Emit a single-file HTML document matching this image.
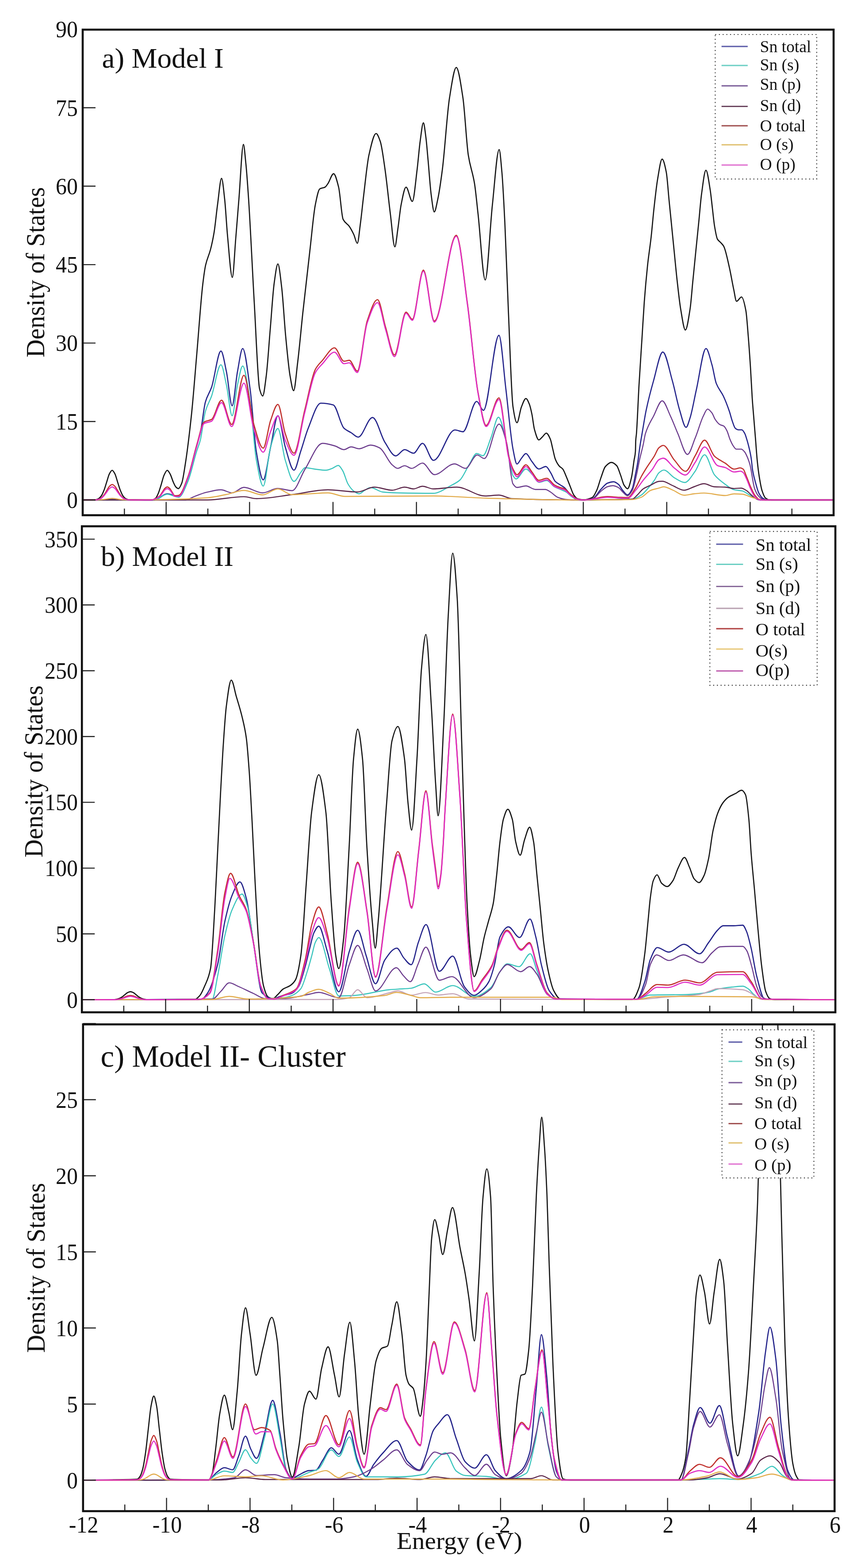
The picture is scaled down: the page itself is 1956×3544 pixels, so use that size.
<!DOCTYPE html>
<html><head><meta charset="utf-8"><title>Density of States</title>
<style>html,body{margin:0;padding:0;background:#fff;}svg{display:block;filter:blur(0.6px);}text{font-family:'Liberation Serif', 'Times New Roman', serif;fill:#111;}</style></head><body>
<svg xmlns="http://www.w3.org/2000/svg" width="1956" height="3544" viewBox="0 0 1956 3544">
<rect x="0" y="0" width="1956" height="3544" fill="#fff"/>
<defs>
<clipPath id="cp0"><rect x="187.0" y="67.0" width="1698.0" height="1097.5"/></clipPath>
<clipPath id="cp1"><rect x="185.2" y="1189.5" width="1703.8" height="1098.5"/></clipPath>
<clipPath id="cp2"><rect x="187.8" y="2315.3" width="1699.4" height="1100.2"/></clipPath>
</defs>
<g clip-path="url(#cp0)" fill="none" stroke-linejoin="round" stroke-linecap="round">
<path d="M187.0 1130.0C196.9 1129.8 206.8 1129.8 216.7 1129.3C218.7 1129.2 220.8 1128.2 222.8 1127.1C224.9 1126.0 226.9 1123.7 229.0 1120.9C231.0 1118.2 233.1 1113.2 235.1 1108.2C237.2 1103.1 239.2 1095.7 241.3 1089.4C243.3 1083.2 245.4 1074.6 247.4 1070.9C249.5 1067.2 251.5 1063.0 253.6 1063.0C255.7 1063.0 257.7 1067.2 259.8 1070.9C261.8 1074.6 263.9 1083.2 265.9 1089.4C268.0 1095.7 270.0 1103.1 272.1 1108.2C274.1 1113.2 276.2 1118.2 278.2 1120.9C280.3 1123.7 282.3 1126.0 284.4 1127.1C286.4 1128.2 288.5 1129.2 290.5 1129.3C308.7 1129.9 326.8 1130.0 345.0 1130.0C347.3 1130.0 349.7 1128.1 352.0 1126.0C354.0 1124.2 356.0 1119.6 358.0 1115.0C360.0 1110.4 362.0 1103.3 364.0 1097.0C366.3 1089.7 368.7 1078.9 371.0 1074.0C373.4 1069.0 375.8 1063.0 378.2 1063.0C380.5 1063.0 382.7 1068.0 385.0 1072.0C387.3 1076.1 389.7 1085.0 392.0 1090.0C394.0 1094.3 396.0 1099.1 398.0 1101.0C399.8 1102.7 401.6 1104.4 403.4 1104.4C405.9 1104.4 408.5 1098.3 411.0 1092.0C413.7 1085.4 416.3 1065.8 419.0 1049.0C423.7 1019.5 428.3 981.1 433.0 937.0C437.0 899.2 441.0 846.1 445.0 800.0C449.5 747.8 454.1 679.4 458.6 642.0C460.7 624.4 462.9 608.5 465.0 599.0C468.7 582.7 472.3 578.1 476.0 564.0C478.7 553.7 481.3 541.9 484.0 526.0C486.7 510.1 489.3 481.3 492.0 462.0C495.0 440.3 498.0 403.0 501.0 403.0C503.3 403.0 505.7 429.4 508.0 450.0C510.2 469.4 512.4 511.0 514.6 534.0C518.2 571.6 521.8 627.0 525.4 627.0C527.9 627.0 530.5 570.2 533.0 540.0C535.5 510.6 537.9 478.3 540.4 448.0C543.7 407.0 547.1 326.4 550.4 326.4C552.3 326.4 554.1 351.9 556.0 370.0C558.0 389.4 560.0 418.3 562.0 448.0C566.3 512.4 570.7 610.8 575.0 685.0C579.0 753.5 583.0 864.0 587.0 879.0C589.3 887.8 591.7 895.0 594.0 895.0C596.7 895.0 599.3 870.1 602.0 850.0C605.0 827.4 608.0 780.0 611.0 745.0C614.0 710.0 617.0 661.4 620.0 640.0C622.8 620.0 625.6 596.5 628.4 596.5C631.3 596.5 634.1 626.4 637.0 650.0C640.0 674.7 643.0 728.8 646.0 760.0C649.3 794.6 652.7 831.4 656.0 850.0C658.7 864.9 661.3 883.0 664.0 883.0C667.0 883.0 670.0 844.1 673.0 820.0C677.0 787.9 681.0 741.8 685.0 705.0C690.3 655.9 695.7 609.9 701.0 564.0C705.0 529.6 709.0 482.9 713.0 463.0C716.3 446.4 719.7 429.1 723.0 427.0C727.0 424.5 731.0 425.2 735.0 423.0C737.2 421.8 739.3 418.1 741.5 415.0C745.8 408.9 750.1 392.6 754.4 392.6C758.2 392.6 761.9 408.1 765.7 423.0C769.1 436.3 772.4 488.7 775.8 495.6C780.5 505.2 785.2 505.0 789.9 511.7C793.3 516.5 796.6 522.9 800.0 530.0C802.7 535.6 805.3 550.0 808.0 550.0C810.3 550.0 812.7 522.2 815.0 505.0C817.4 487.3 819.8 462.6 822.2 443.0C826.2 410.1 830.3 368.1 834.3 350.3C839.7 326.6 845.0 301.8 850.4 301.8C853.6 301.8 856.8 310.9 860.0 320.0C863.5 330.1 867.1 358.2 870.6 382.5C874.6 410.3 878.7 452.0 882.7 483.5C886.1 509.8 889.4 558.0 892.8 558.0C895.2 558.0 897.6 530.9 900.0 515.0C902.3 499.5 904.7 474.6 907.0 463.0C910.7 444.5 914.5 423.0 918.2 423.0C922.9 423.0 927.7 455.2 932.4 455.2C936.0 455.2 939.7 411.1 943.3 382.5C945.5 364.9 947.8 335.9 950.0 320.0C952.5 302.4 954.9 277.6 957.4 277.6C959.3 277.6 961.1 296.0 963.0 310.0C964.7 322.5 966.3 344.1 968.0 362.0C970.3 387.1 972.7 422.7 975.0 440.0C977.3 457.3 979.7 479.0 982.0 479.0C984.7 479.0 987.3 462.3 990.0 450.0C993.5 434.1 996.9 409.4 1000.4 382.5C1005.8 340.8 1011.1 254.1 1016.5 221.0C1021.6 189.5 1026.7 152.5 1031.8 152.5C1036.8 152.5 1041.8 188.5 1046.8 221.0C1050.8 247.2 1054.9 324.2 1058.9 350.3C1063.6 380.7 1068.3 385.9 1073.0 414.8C1075.7 431.2 1078.3 459.9 1081.0 483.5C1086.4 531.3 1091.8 632.8 1097.2 632.8C1102.6 632.8 1108.0 512.8 1113.4 463.3C1118.5 416.5 1123.6 338.1 1128.7 338.1C1130.8 338.1 1132.9 366.7 1135.0 390.0C1137.2 414.4 1139.4 459.1 1141.6 503.6C1144.3 558.2 1147.0 644.0 1149.7 705.4C1153.1 783.5 1156.6 896.7 1160.0 919.4C1163.0 939.2 1166.0 955.4 1169.0 955.4C1172.3 955.4 1175.7 928.2 1179.0 920.0C1182.4 911.6 1185.9 900.8 1189.3 900.8C1191.9 900.8 1194.5 907.6 1197.1 913.8C1199.0 918.3 1200.9 927.2 1202.8 936.3C1204.7 945.2 1206.5 963.3 1208.4 970.0C1211.8 982.0 1215.1 994.2 1218.5 994.2C1221.0 994.2 1223.5 990.2 1226.0 988.0C1229.1 985.2 1232.3 979.0 1235.4 979.0C1238.4 979.0 1241.4 985.7 1244.4 992.5C1246.3 996.7 1248.1 1007.5 1250.0 1015.0C1251.9 1022.5 1253.7 1032.8 1255.6 1037.5C1258.6 1045.1 1261.6 1049.9 1264.6 1053.3C1267.2 1056.3 1269.9 1056.8 1272.5 1060.0C1275.1 1063.2 1277.8 1070.8 1280.4 1076.9C1283.4 1083.8 1286.4 1092.0 1289.4 1099.4C1292.0 1105.9 1294.7 1114.7 1297.3 1118.5C1300.3 1122.8 1303.3 1126.7 1306.3 1127.5C1310.8 1128.7 1315.2 1129.5 1319.7 1129.5C1326.3 1129.5 1332.8 1127.6 1339.4 1124.4C1342.7 1122.8 1345.9 1115.4 1349.2 1108.6C1352.5 1101.7 1355.8 1088.1 1359.1 1079.1C1362.4 1070.2 1365.6 1058.1 1368.9 1054.5C1373.5 1049.4 1378.1 1045.1 1382.7 1045.1C1386.6 1045.1 1390.6 1048.5 1394.5 1052.5C1397.5 1055.5 1400.4 1066.3 1403.4 1074.1C1406.0 1081.0 1408.7 1092.9 1411.3 1096.8C1413.9 1100.7 1416.5 1104.7 1419.1 1104.7C1422.1 1104.7 1425.0 1091.4 1428.0 1079.1C1430.0 1071.0 1431.9 1052.7 1433.9 1039.7C1434.9 1033.1 1435.9 1033.3 1436.9 1020.0C1437.1 1017.3 1437.3 1000.4 1437.5 996.9C1438.1 987.0 1438.6 987.0 1439.2 980.0C1441.1 956.1 1443.1 903.3 1445.0 870.0C1447.3 829.8 1449.7 796.8 1452.0 760.0C1453.6 734.2 1455.3 703.9 1456.9 682.3C1459.3 650.0 1461.8 623.5 1464.2 600.8C1466.9 575.3 1469.7 560.0 1472.4 535.6C1474.6 516.3 1476.7 489.8 1478.9 470.4C1481.6 446.2 1484.3 420.9 1487.0 405.2C1490.4 385.4 1493.8 359.6 1497.2 359.6C1500.3 359.6 1503.5 373.5 1506.6 388.9C1508.8 399.5 1510.9 432.4 1513.1 454.1C1514.7 470.4 1516.4 486.7 1518.0 503.0C1520.2 524.7 1522.3 546.6 1524.5 568.2C1526.7 590.1 1528.9 613.8 1531.1 633.4C1533.8 657.4 1536.5 682.9 1539.2 698.6C1542.7 719.1 1546.3 745.9 1549.8 745.9C1553.3 745.9 1556.9 721.1 1560.4 698.6C1562.6 684.8 1564.7 655.1 1566.9 633.4C1569.1 611.7 1571.2 589.8 1573.4 568.2C1575.6 546.3 1577.8 524.9 1580.0 503.0C1582.2 481.4 1584.3 453.3 1586.5 437.8C1589.8 414.4 1593.0 384.8 1596.3 384.8C1599.5 384.8 1602.8 409.8 1606.0 429.6C1607.6 439.6 1609.3 456.8 1610.9 470.4C1612.5 484.0 1614.2 501.4 1615.8 511.1C1618.0 524.0 1620.1 536.7 1622.3 540.5C1624.9 545.0 1627.4 545.7 1630.0 548.6C1632.1 551.0 1634.3 552.7 1636.4 556.4C1640.7 563.9 1645.1 586.2 1649.4 605.0C1652.6 618.9 1655.8 638.8 1659.0 653.5C1661.2 663.4 1663.3 681.0 1665.5 681.0C1669.3 681.0 1673.1 671.3 1676.9 671.3C1680.1 671.3 1683.4 685.3 1686.6 702.0C1688.4 711.3 1690.2 738.1 1692.0 760.0C1693.7 780.3 1695.3 804.0 1697.0 830.0C1698.3 850.8 1699.7 880.5 1701.0 900.0C1702.2 918.0 1703.5 931.3 1704.7 946.6C1706.0 962.3 1707.2 977.5 1708.5 993.2C1709.7 1008.5 1711.0 1027.6 1712.2 1039.8C1713.7 1055.0 1715.3 1067.4 1716.8 1077.0C1719.0 1090.7 1721.2 1103.1 1723.4 1109.7C1725.9 1117.1 1728.3 1123.6 1730.8 1125.5C1733.6 1127.7 1736.4 1129.3 1739.2 1129.5C1742.8 1129.8 1746.4 1130.0 1750.0 1130.0C1795.0 1130.0 1840.0 1130.0 1885.0 1130.0" stroke="#141414" stroke-width="2.6"/>
<path d="M187.0 1130.0C202.0 1130.0 217.0 1130.0 232.0 1130.0C239.0 1130.0 246.0 1128.0 253.0 1128.0C260.3 1128.0 267.7 1130.0 275.0 1130.0C300.0 1130.0 325.0 1130.0 350.0 1130.0C359.3 1130.0 368.7 1116.0 378.0 1116.0C386.7 1116.0 395.3 1122.0 404.0 1122.0C411.0 1122.0 418.0 1098.2 425.0 1080.0C431.6 1062.9 438.1 1030.0 444.7 1007.0C447.5 997.3 450.2 990.9 453.0 979.0C456.8 962.7 460.6 922.1 464.4 908.8C469.1 892.3 473.8 888.7 478.5 875.0C485.5 854.5 492.6 793.4 499.6 793.4C503.7 793.4 507.9 820.9 512.0 840.0C516.3 859.8 520.6 917.2 524.9 917.2C528.9 917.2 533.0 861.1 537.0 840.0C540.9 819.5 544.9 787.8 548.8 787.8C554.4 787.8 560.1 840.2 565.7 880.6C570.4 914.0 575.0 994.0 579.7 1021.3C584.9 1051.5 590.0 1084.6 595.2 1084.6C600.8 1084.6 606.4 1034.4 612.0 1010.0C617.5 986.1 622.9 939.6 628.4 939.6C633.9 939.6 639.5 991.8 645.0 1010.0C651.6 1031.7 658.2 1062.7 664.8 1062.7C669.9 1062.7 674.9 1034.9 680.0 1020.0C685.7 1003.4 691.3 981.8 697.0 967.8C706.4 944.6 715.9 911.3 725.3 911.3C734.7 911.3 744.2 912.7 753.6 915.3C761.7 917.5 769.7 960.2 777.8 967.8C783.2 972.9 788.6 974.6 794.0 978.0C799.3 981.3 804.7 988.0 810.0 988.0C820.8 988.0 831.6 943.6 842.4 943.6C851.8 943.6 861.2 985.6 870.6 1000.0C878.7 1012.4 886.7 1030.4 894.8 1030.4C901.5 1030.4 908.3 1016.3 915.0 1016.3C921.7 1016.3 928.5 1024.3 935.2 1024.3C941.9 1024.3 948.7 1002.0 955.4 1002.0C963.7 1002.0 971.9 1040.5 980.2 1040.5C996.3 1040.5 1012.5 971.8 1028.6 971.8C1034.7 971.8 1040.7 975.9 1046.8 975.9C1057.2 975.9 1067.5 907.3 1077.9 907.3C1083.0 907.3 1088.1 927.5 1093.2 927.5C1104.9 927.5 1116.6 757.9 1128.3 757.9C1133.5 757.9 1138.8 837.6 1144.0 880.0C1149.3 923.2 1154.7 988.2 1160.0 1015.0C1163.0 1030.1 1166.0 1048.8 1169.0 1048.8C1172.3 1048.8 1175.7 1039.9 1179.0 1036.0C1182.4 1032.0 1185.9 1025.1 1189.3 1025.1C1193.8 1025.1 1198.3 1037.7 1202.8 1043.1C1208.0 1049.4 1213.3 1060.0 1218.5 1060.0C1223.8 1060.0 1229.0 1054.4 1234.3 1054.4C1238.0 1054.4 1241.8 1063.2 1245.5 1069.0C1248.9 1074.2 1252.2 1084.8 1255.6 1088.2C1259.4 1092.0 1263.1 1093.5 1266.9 1096.0C1269.9 1098.0 1272.9 1099.3 1275.9 1101.7C1280.4 1105.3 1284.9 1113.3 1289.4 1117.4C1295.0 1122.5 1300.7 1129.6 1306.3 1129.8C1310.9 1129.9 1315.4 1130.0 1320.0 1130.0C1326.7 1130.0 1333.3 1128.8 1340.0 1127.0C1346.4 1125.3 1352.7 1112.2 1359.1 1105.7C1364.0 1100.7 1368.9 1093.6 1373.8 1091.9C1378.4 1090.3 1383.0 1088.9 1387.6 1088.9C1391.2 1088.9 1394.9 1091.9 1398.5 1094.8C1401.8 1097.4 1405.0 1105.0 1408.3 1108.6C1411.9 1112.6 1415.5 1118.5 1419.1 1118.5C1422.7 1118.5 1426.4 1111.6 1430.0 1103.7C1432.3 1098.6 1434.7 1083.4 1437.0 1072.0C1438.6 1064.4 1440.1 1056.9 1441.7 1047.5C1443.7 1035.7 1445.6 1017.9 1447.6 1005.3C1449.0 996.1 1450.5 988.3 1451.9 980.0C1455.0 962.2 1458.0 942.2 1461.1 927.5C1466.7 900.6 1472.4 879.7 1478.0 860.0C1484.9 835.7 1491.9 795.6 1498.8 795.6C1505.9 795.6 1513.1 835.3 1520.2 860.0C1525.8 879.4 1531.4 909.6 1537.0 927.5C1541.8 942.8 1546.6 965.9 1551.4 965.9C1554.5 965.9 1557.5 953.3 1560.6 943.9C1565.3 929.5 1570.0 901.2 1574.7 880.6C1582.0 848.8 1589.2 787.8 1596.5 787.8C1601.0 787.8 1605.4 809.3 1609.9 824.4C1613.2 835.4 1616.4 858.1 1619.7 866.6C1625.0 880.4 1630.3 883.8 1635.6 895.0C1640.2 904.7 1644.8 916.5 1649.4 930.0C1651.5 936.2 1653.6 945.2 1655.7 951.1C1658.0 957.7 1660.4 966.1 1662.7 968.0C1665.1 969.9 1667.4 971.5 1669.8 971.5C1672.4 971.5 1674.9 971.5 1677.5 971.5C1679.6 971.5 1681.7 975.6 1683.8 979.2C1685.5 982.1 1687.1 987.9 1688.8 993.3C1690.7 999.3 1692.5 1006.3 1694.4 1014.4C1695.8 1020.5 1697.2 1026.6 1698.6 1035.5C1699.7 1042.5 1700.8 1056.7 1701.9 1063.1C1704.1 1075.9 1706.3 1083.0 1708.5 1091.0C1711.0 1099.9 1713.4 1109.8 1715.9 1114.4C1719.0 1120.2 1722.1 1124.8 1725.2 1126.5C1728.5 1128.3 1731.7 1130.0 1735.0 1130.0C1785.0 1130.0 1835.0 1130.0 1885.0 1130.0" stroke="#23238a" stroke-width="2.6"/>
<path d="M187.0 1130.0C241.3 1130.0 295.7 1130.0 350.0 1130.0C359.3 1130.0 368.7 1117.0 378.0 1117.0C386.7 1117.0 395.3 1124.0 404.0 1124.0C411.0 1124.0 418.0 1104.1 425.0 1088.0C431.6 1072.9 438.1 1040.9 444.7 1020.0C447.5 1011.2 450.2 1005.7 453.0 995.0C456.8 980.3 460.6 943.3 464.4 930.0C469.1 913.5 473.8 908.3 478.5 895.0C485.5 875.1 492.6 824.4 499.6 824.4C503.7 824.4 507.9 851.9 512.0 870.0C516.3 888.8 520.6 939.7 524.9 939.7C528.9 939.7 533.0 887.9 537.0 870.0C540.9 852.5 544.9 827.2 548.8 827.2C554.4 827.2 560.1 873.5 565.7 910.0C570.4 940.2 575.0 1014.7 579.7 1040.0C584.9 1068.0 590.0 1098.6 595.2 1098.6C600.8 1098.6 606.4 1029.1 612.0 1010.0C617.5 991.3 622.9 968.5 628.4 968.5C633.9 968.5 639.5 1022.7 645.0 1040.0C651.6 1060.6 658.2 1088.0 664.8 1088.0C669.9 1088.0 674.9 1074.0 680.0 1068.0C683.3 1064.0 686.7 1057.0 690.0 1057.0C696.7 1057.0 703.3 1059.2 710.0 1060.0C719.2 1061.1 728.3 1062.8 737.5 1062.8C742.2 1062.8 746.8 1060.3 751.5 1058.6C756.0 1056.9 760.5 1052.0 765.0 1052.0C768.3 1052.0 771.7 1058.7 775.0 1064.0C779.0 1070.4 783.0 1087.4 787.0 1094.0C791.3 1101.2 795.7 1106.9 800.0 1110.0C804.0 1112.8 808.0 1116.0 812.0 1116.0C816.3 1116.0 820.7 1110.3 825.0 1108.0C829.3 1105.7 833.7 1102.0 838.0 1102.0C847.0 1102.0 856.0 1111.1 865.0 1112.0C876.7 1113.2 888.3 1113.7 900.0 1114.0C926.5 1114.6 953.1 1115.0 979.6 1115.0C993.2 1115.0 1006.9 1104.1 1020.5 1097.0C1027.0 1093.6 1033.5 1090.8 1040.0 1085.0C1047.0 1078.7 1054.0 1060.9 1061.0 1050.0C1066.7 1041.2 1072.3 1025.0 1078.0 1025.0C1082.7 1025.0 1087.3 1030.0 1092.0 1030.0C1098.0 1030.0 1104.0 1004.7 1110.0 990.0C1115.7 975.9 1121.5 943.0 1127.2 943.0C1133.1 943.0 1139.1 976.7 1145.0 1000.0C1150.0 1019.6 1155.0 1066.6 1160.0 1075.0C1162.3 1078.8 1164.5 1082.5 1166.8 1082.5C1174.3 1082.5 1181.8 1060.0 1189.3 1060.0C1193.9 1060.0 1198.4 1067.5 1203.0 1072.0C1208.2 1077.1 1213.3 1090.0 1218.5 1090.0C1224.5 1090.0 1230.5 1086.0 1236.5 1086.0C1242.1 1086.0 1247.8 1096.8 1253.4 1100.0C1257.9 1102.6 1262.4 1104.0 1266.9 1106.0C1271.3 1108.0 1275.6 1109.5 1280.0 1112.0C1285.0 1114.9 1290.0 1121.3 1295.0 1124.0C1300.0 1126.7 1305.0 1130.0 1310.0 1130.0C1350.0 1130.0 1390.0 1129.7 1430.0 1128.0C1436.7 1127.7 1443.3 1123.2 1450.0 1119.0C1454.3 1116.3 1458.5 1111.2 1462.8 1106.6C1468.4 1100.5 1474.1 1093.6 1479.7 1085.5C1483.1 1080.6 1486.6 1071.5 1490.0 1068.6C1493.7 1065.5 1497.5 1062.4 1501.2 1062.4C1509.1 1062.4 1517.1 1075.6 1525.0 1080.0C1532.8 1084.3 1540.5 1090.5 1548.3 1090.5C1556.2 1090.5 1564.1 1075.6 1572.0 1065.0C1579.1 1055.5 1586.2 1027.9 1593.3 1027.9C1600.8 1027.9 1608.3 1064.4 1615.8 1073.6C1623.9 1083.5 1631.9 1088.9 1640.0 1094.7C1646.7 1099.5 1653.3 1105.3 1660.0 1106.9C1666.2 1108.4 1672.4 1108.2 1678.6 1109.7C1683.1 1110.8 1687.5 1114.5 1692.0 1117.0C1696.9 1119.7 1701.7 1123.2 1706.6 1125.5C1710.4 1127.3 1714.2 1130.0 1718.0 1130.0C1773.7 1130.0 1829.3 1130.0 1885.0 1130.0" stroke="#38c4bc" stroke-width="2.4"/>
<path d="M187.0 1130.0C264.7 1130.0 342.3 1130.0 420.0 1130.0C426.7 1130.0 433.3 1124.5 440.0 1122.0C449.1 1118.6 458.1 1114.8 467.2 1112.7C478.0 1110.2 488.8 1107.0 499.6 1107.0C508.0 1107.0 516.5 1114.0 524.9 1114.0C533.8 1114.0 542.7 1101.5 551.6 1101.5C565.7 1101.5 579.7 1114.0 593.8 1114.0C605.2 1114.0 616.6 1104.0 628.0 1104.0C638.9 1104.0 649.8 1109.0 660.7 1109.0C670.5 1109.0 680.2 1075.4 690.0 1060.0C703.1 1039.4 716.2 1002.0 729.3 1002.0C738.7 1002.0 748.2 1005.3 757.6 1008.0C764.3 1009.9 771.1 1016.3 777.8 1016.3C783.2 1016.3 788.6 1010.0 794.0 1010.0C800.0 1010.0 806.0 1014.3 812.0 1014.3C820.8 1014.3 829.5 1006.0 838.3 1006.0C845.0 1006.0 851.8 1009.0 858.5 1012.3C867.9 1016.9 877.4 1042.6 886.8 1050.6C890.8 1054.0 894.9 1058.6 898.9 1058.6C904.3 1058.6 909.6 1052.6 915.0 1052.6C920.3 1052.6 925.7 1058.6 931.0 1058.6C939.1 1058.6 947.3 1046.6 955.4 1046.6C964.3 1046.6 973.3 1072.8 982.2 1072.8C997.4 1072.8 1012.6 1048.5 1027.8 1048.5C1036.1 1048.5 1044.5 1058.6 1052.8 1058.6C1061.5 1058.6 1070.3 1028.4 1079.0 1028.4C1084.4 1028.4 1089.8 1036.4 1095.2 1036.4C1106.3 1036.4 1117.5 958.5 1128.6 958.5C1134.2 958.5 1139.9 980.1 1145.5 1000.6C1150.3 1018.2 1155.2 1086.8 1160.0 1093.8C1163.0 1098.2 1166.0 1101.7 1169.0 1101.7C1175.8 1101.7 1182.5 1098.3 1189.3 1098.3C1196.4 1098.3 1203.5 1106.2 1210.6 1106.2C1218.1 1106.2 1225.6 1106.2 1233.1 1106.2C1236.9 1106.2 1240.6 1109.6 1244.4 1111.8C1250.0 1115.1 1255.7 1122.0 1261.3 1124.2C1266.9 1126.4 1272.5 1128.0 1278.1 1128.7C1283.7 1129.4 1289.4 1130.0 1295.0 1130.0C1304.0 1130.0 1313.0 1130.0 1322.0 1130.0C1328.0 1130.0 1334.0 1129.2 1340.0 1128.0C1346.4 1126.7 1352.7 1115.0 1359.1 1110.0C1364.0 1106.2 1368.9 1101.4 1373.8 1100.0C1377.8 1098.9 1381.7 1097.8 1385.7 1097.8C1390.0 1097.8 1394.2 1099.8 1398.5 1102.0C1401.8 1103.7 1405.0 1109.1 1408.3 1112.0C1411.9 1115.2 1415.5 1120.5 1419.1 1120.5C1422.7 1120.5 1426.4 1114.5 1430.0 1108.0C1433.3 1102.1 1436.7 1084.6 1440.0 1070.0C1442.0 1061.3 1444.0 1049.1 1446.0 1040.0C1448.8 1027.3 1451.6 1018.0 1454.4 1005.3C1456.1 997.6 1457.8 985.5 1459.5 980.0C1465.7 960.0 1471.8 952.2 1478.0 940.2C1484.5 927.7 1490.9 906.0 1497.4 906.0C1503.6 906.0 1509.8 927.3 1516.0 940.2C1521.6 951.8 1527.2 967.3 1532.8 980.0C1540.1 996.5 1547.3 1027.2 1554.6 1027.2C1560.4 1027.2 1566.2 1003.8 1572.0 990.0C1578.2 975.3 1584.3 952.2 1590.5 940.0C1593.7 933.8 1596.8 924.6 1600.0 924.6C1603.3 924.6 1606.7 929.3 1610.0 933.5C1612.3 936.4 1614.7 944.2 1617.0 947.6C1620.5 952.8 1624.1 957.5 1627.6 959.5C1630.6 961.3 1633.7 961.2 1636.7 963.1C1639.1 964.6 1641.4 969.0 1643.8 973.6C1646.1 978.1 1648.5 987.8 1650.8 993.3C1653.1 998.8 1655.5 1004.1 1657.8 1007.4C1660.2 1010.7 1662.5 1015.1 1664.9 1015.1C1668.6 1015.1 1672.4 1015.1 1676.1 1015.1C1678.7 1015.1 1681.2 1018.4 1683.8 1021.4C1686.2 1024.2 1688.5 1029.8 1690.9 1035.5C1692.5 1039.4 1694.2 1044.1 1695.8 1050.0C1699.4 1063.0 1703.0 1095.5 1706.6 1105.0C1709.7 1113.2 1712.8 1118.7 1715.9 1121.8C1719.9 1125.9 1724.0 1130.0 1728.0 1130.0C1780.3 1130.0 1832.7 1130.0 1885.0 1130.0" stroke="#6a3a8c" stroke-width="2.4"/>
<path d="M187.0 1130.0C281.3 1130.0 375.7 1130.0 470.0 1130.0C497.2 1130.0 524.4 1122.6 551.6 1122.6C561.1 1122.6 570.5 1127.0 580.0 1127.0C606.7 1127.0 633.3 1121.3 660.0 1118.0C687.2 1114.7 714.3 1107.0 741.5 1107.0C763.7 1107.0 785.8 1112.0 808.0 1112.0C820.8 1112.0 833.6 1101.0 846.4 1101.0C859.9 1101.0 873.3 1108.0 886.8 1108.0C896.2 1108.0 905.6 1101.0 915.0 1101.0C921.7 1101.0 928.3 1105.0 935.0 1105.0C941.8 1105.0 948.6 1099.0 955.4 1099.0C963.5 1099.0 971.5 1105.0 979.6 1105.0C997.3 1105.0 1015.0 1101.0 1032.7 1101.0C1054.2 1101.0 1075.7 1121.0 1097.2 1121.0C1107.5 1121.0 1117.7 1119.0 1128.0 1119.0C1137.9 1119.0 1147.9 1126.5 1157.8 1127.0C1205.2 1129.3 1252.6 1130.0 1300.0 1130.0C1343.3 1130.0 1386.7 1129.8 1430.0 1128.0C1433.3 1127.9 1436.7 1123.0 1440.0 1120.0C1444.8 1115.7 1449.6 1108.2 1454.4 1104.9C1460.0 1101.1 1465.7 1099.2 1471.3 1096.5C1477.5 1093.5 1483.8 1088.4 1490.0 1088.0C1492.6 1087.8 1495.1 1087.7 1497.7 1087.7C1505.1 1087.7 1512.6 1093.9 1520.0 1097.0C1529.0 1100.7 1537.9 1108.0 1546.9 1108.0C1554.6 1108.0 1562.3 1102.5 1570.0 1100.0C1577.3 1097.6 1584.6 1093.3 1591.9 1093.3C1599.9 1093.3 1607.8 1099.9 1615.8 1100.3C1623.9 1100.7 1631.9 1100.6 1640.0 1101.0C1646.7 1101.3 1653.3 1104.1 1660.0 1104.1C1665.3 1104.1 1670.5 1103.2 1675.8 1103.2C1679.9 1103.2 1683.9 1106.3 1688.0 1108.8C1691.1 1110.7 1694.2 1114.3 1697.3 1117.1C1700.4 1119.9 1703.5 1123.8 1706.6 1125.5C1710.4 1127.6 1714.2 1130.0 1718.0 1130.0C1773.7 1130.0 1829.3 1130.0 1885.0 1130.0" stroke="#5a2448" stroke-width="2.4"/>
<path d="M187.0 1130.0C196.9 1129.9 206.9 1129.9 216.8 1129.6C218.8 1129.5 220.9 1129.0 222.9 1128.5C225.0 1127.9 227.0 1126.8 229.1 1125.3C231.1 1123.9 233.2 1121.2 235.2 1118.6C237.3 1115.9 239.3 1112.1 241.4 1108.8C243.4 1105.6 245.5 1101.0 247.5 1099.1C249.6 1097.2 251.6 1095.0 253.7 1095.0C255.7 1095.0 257.8 1097.2 259.8 1099.1C261.9 1101.0 263.9 1105.5 266.0 1108.8C268.0 1112.0 270.1 1116.0 272.1 1118.6C274.2 1121.3 276.2 1123.8 278.3 1125.3C280.3 1126.7 282.4 1128.0 284.4 1128.5C286.5 1129.0 288.5 1129.6 290.6 1129.6C307.4 1129.9 324.2 1130.0 341.0 1130.0C347.9 1130.0 354.8 1125.9 361.7 1120.4C363.5 1119.0 365.4 1114.8 367.2 1112.1C369.0 1109.4 370.9 1105.6 372.7 1104.0C374.5 1102.4 376.4 1100.5 378.2 1100.5C380.0 1100.5 381.9 1102.4 383.7 1104.0C385.5 1105.6 387.4 1109.4 389.2 1112.1C391.0 1114.8 392.9 1120.4 394.7 1120.4C397.8 1120.4 400.9 1120.1 404.0 1119.7C411.0 1118.8 418.0 1095.7 425.0 1077.6C431.6 1060.7 438.1 1029.0 444.7 1007.0C450.3 988.1 456.0 957.3 461.6 953.8C467.2 950.3 472.9 951.2 478.5 948.0C486.0 943.8 493.5 904.6 501.0 904.6C508.7 904.6 516.3 959.4 524.0 959.4C533.2 959.4 542.4 848.3 551.6 848.3C559.1 848.3 566.5 934.5 574.0 959.4C581.1 983.0 588.1 1012.9 595.2 1012.9C600.8 1012.9 606.4 965.5 612.0 950.0C617.5 934.9 622.9 914.0 628.4 914.0C633.9 914.0 639.5 964.0 645.0 980.0C651.6 999.1 658.2 1024.3 664.8 1024.3C672.9 1024.3 680.9 959.1 689.0 927.5C697.1 895.9 705.1 849.4 713.2 834.6C718.6 824.8 723.9 820.6 729.3 814.4C738.3 804.0 747.4 786.2 756.4 786.2C763.5 786.2 770.7 816.4 777.8 816.4C781.8 816.4 785.9 814.4 789.9 814.4C795.9 814.4 802.0 838.7 808.0 838.7C815.4 838.7 822.9 747.5 830.3 725.6C838.1 702.6 845.9 677.2 853.7 677.2C859.8 677.2 865.9 720.1 872.0 740.0C878.7 761.8 885.3 802.3 892.0 802.3C900.7 802.3 909.5 705.5 918.2 705.5C922.9 705.5 927.7 721.6 932.4 721.6C940.7 721.6 949.1 610.6 957.4 610.6C965.7 610.6 973.9 725.6 982.2 725.6C998.7 725.6 1015.3 531.9 1031.8 531.9C1040.2 531.9 1048.5 626.1 1056.9 685.3C1064.9 742.1 1073.0 843.7 1081.0 887.1C1087.1 920.0 1093.2 961.7 1099.3 961.7C1109.0 961.7 1118.6 899.2 1128.3 899.2C1135.4 899.2 1142.6 1000.4 1149.7 1028.4C1153.1 1041.9 1156.6 1053.3 1160.0 1060.0C1163.0 1065.8 1166.0 1073.0 1169.0 1073.0C1175.8 1073.0 1182.5 1050.5 1189.3 1050.5C1193.9 1050.5 1198.4 1061.5 1203.0 1067.0C1208.2 1073.2 1213.3 1085.5 1218.5 1085.5C1224.5 1085.5 1230.5 1081.0 1236.5 1081.0C1242.1 1081.0 1247.8 1092.7 1253.4 1096.0C1257.9 1098.6 1262.4 1100.5 1266.9 1102.0C1269.9 1103.0 1272.9 1103.3 1275.9 1104.5C1280.6 1106.4 1285.3 1113.4 1290.0 1117.0C1295.3 1121.1 1300.7 1126.8 1306.0 1128.0C1310.7 1129.1 1315.3 1130.0 1320.0 1130.0C1325.0 1130.0 1330.0 1129.1 1335.0 1128.5C1347.9 1127.0 1360.9 1122.4 1373.8 1122.4C1382.5 1122.4 1391.3 1123.7 1400.0 1124.0C1406.7 1124.2 1413.3 1124.5 1420.0 1124.5C1425.8 1124.5 1431.7 1111.5 1437.5 1102.4C1441.7 1095.8 1446.0 1084.7 1450.2 1077.0C1454.4 1069.4 1458.6 1062.7 1462.8 1056.0C1468.4 1047.1 1474.1 1039.9 1479.7 1030.6C1483.1 1024.9 1486.6 1014.8 1490.0 1012.0C1493.3 1009.3 1496.5 1006.8 1499.8 1006.8C1508.2 1006.8 1516.6 1030.5 1525.0 1040.0C1533.5 1049.6 1541.9 1065.2 1550.4 1065.2C1557.6 1065.2 1564.8 1041.8 1572.0 1030.0C1579.1 1018.4 1586.2 994.9 1593.3 994.9C1600.8 994.9 1608.3 1024.3 1615.8 1031.4C1619.7 1035.1 1623.7 1037.2 1627.6 1039.7C1631.7 1042.3 1635.9 1044.3 1640.0 1046.9C1646.7 1051.0 1653.3 1060.3 1660.0 1060.3C1664.7 1060.3 1669.3 1057.5 1674.0 1057.5C1676.2 1057.5 1678.3 1058.8 1680.5 1060.3C1683.0 1062.1 1685.5 1071.1 1688.0 1077.0C1691.1 1084.3 1694.2 1093.5 1697.3 1100.4C1700.4 1107.3 1703.5 1114.9 1706.6 1119.0C1709.7 1123.1 1712.8 1127.3 1715.9 1128.3C1718.9 1129.3 1722.0 1130.0 1725.0 1130.0C1778.3 1130.0 1831.7 1130.0 1885.0 1130.0" stroke="#c0302c" stroke-width="2.6"/>
<path d="M187.0 1130.0C196.9 1130.0 206.9 1130.0 216.8 1130.0C218.8 1130.0 220.9 1129.9 222.9 1129.8C225.0 1129.7 227.0 1129.6 229.1 1129.5C231.1 1129.4 233.2 1129.1 235.2 1128.9C237.3 1128.6 239.3 1128.2 241.4 1127.9C243.4 1127.6 245.5 1127.1 247.5 1126.9C249.6 1126.7 251.6 1126.5 253.7 1126.5C255.7 1126.5 257.8 1126.7 259.8 1126.9C261.9 1127.1 263.9 1127.6 266.0 1127.9C268.0 1128.2 270.1 1128.7 272.1 1128.9C274.2 1129.2 276.2 1129.4 278.3 1129.5C280.3 1129.6 282.4 1129.7 284.4 1129.8C286.5 1129.9 288.5 1130.0 290.6 1130.0C319.7 1130.0 348.9 1129.5 378.0 1129.0C408.7 1128.4 439.3 1127.3 470.0 1125.0C483.3 1124.0 496.7 1120.6 510.0 1118.0C523.9 1115.3 537.7 1108.5 551.6 1108.5C565.7 1108.5 579.7 1118.5 593.8 1118.5C605.3 1118.5 616.9 1105.0 628.4 1105.0C638.9 1105.0 649.5 1118.0 660.0 1118.0C673.3 1118.0 686.7 1116.7 700.0 1116.0C713.8 1115.3 727.7 1114.0 741.5 1114.0C754.3 1114.0 767.2 1122.0 780.0 1122.0C846.7 1122.0 913.3 1121.0 980.0 1121.0C1020.0 1121.0 1060.0 1124.9 1100.0 1126.0C1166.7 1127.9 1233.3 1130.0 1300.0 1130.0C1343.3 1130.0 1386.7 1129.8 1430.0 1129.0C1436.7 1128.9 1443.3 1126.5 1450.0 1124.0C1457.1 1121.4 1464.2 1111.1 1471.3 1108.3C1477.5 1105.8 1483.8 1104.9 1490.0 1103.2C1493.5 1102.2 1497.0 1100.3 1500.5 1100.3C1507.7 1100.3 1514.8 1105.1 1522.0 1108.0C1530.3 1111.3 1538.6 1119.3 1546.9 1119.3C1554.6 1119.3 1562.3 1116.7 1570.0 1116.0C1577.3 1115.3 1584.6 1114.4 1591.9 1114.4C1607.9 1114.4 1624.0 1120.0 1640.0 1120.0C1646.7 1120.0 1653.3 1116.2 1660.0 1116.2C1666.2 1116.2 1672.4 1116.5 1678.6 1117.0C1684.8 1117.5 1691.1 1121.1 1697.3 1123.0C1701.9 1124.4 1706.4 1125.7 1711.0 1127.0C1714.7 1128.0 1718.3 1130.0 1722.0 1130.0C1776.3 1130.0 1830.7 1130.0 1885.0 1130.0" stroke="#e2ab4a" stroke-width="2.4"/>
<path d="M187.0 1130.0C196.9 1129.9 206.9 1129.9 216.8 1129.7C218.8 1129.7 220.9 1129.2 222.9 1128.7C225.0 1128.2 227.0 1127.2 229.1 1126.0C231.1 1124.8 233.2 1122.6 235.2 1120.4C237.3 1118.2 239.3 1114.9 241.4 1112.1C243.4 1109.4 245.5 1105.6 247.5 1104.0C249.6 1102.4 251.6 1100.5 253.7 1100.5C255.7 1100.5 257.8 1102.4 259.8 1104.0C261.9 1105.6 263.9 1109.3 266.0 1112.1C268.0 1114.8 270.1 1118.2 272.1 1120.4C274.2 1122.6 276.2 1124.8 278.3 1126.0C280.3 1127.2 282.4 1128.2 284.4 1128.7C286.5 1129.2 288.5 1129.7 290.6 1129.7C307.4 1130.0 324.2 1130.0 341.0 1130.0C347.9 1130.0 354.8 1126.4 361.7 1121.7C363.5 1120.4 365.4 1116.9 367.2 1114.5C369.0 1112.1 370.9 1108.8 372.7 1107.4C374.5 1106.0 376.4 1104.4 378.2 1104.4C380.0 1104.4 381.9 1106.0 383.7 1107.4C385.5 1108.8 387.4 1112.1 389.2 1114.5C391.0 1116.9 392.9 1121.6 394.7 1121.7C397.8 1121.9 400.9 1122.0 404.0 1122.0C411.0 1122.0 418.0 1098.0 425.0 1080.0C431.6 1063.1 438.1 1031.8 444.7 1010.0C450.3 991.3 456.0 960.0 461.6 957.0C467.2 954.0 472.9 954.8 478.5 952.0C486.0 948.3 493.5 910.0 501.0 910.0C508.7 910.0 516.3 964.0 524.0 964.0C533.2 964.0 542.4 866.0 551.6 866.0C559.1 866.0 566.5 946.1 574.0 970.0C581.1 992.6 588.1 1022.0 595.2 1022.0C600.8 1022.0 606.4 988.6 612.0 975.0C617.5 961.8 622.9 940.0 628.4 940.0C633.9 940.0 639.5 982.4 645.0 995.0C651.6 1010.1 658.2 1029.0 664.8 1029.0C672.9 1029.0 680.9 964.1 689.0 933.0C697.1 901.9 705.1 856.6 713.2 842.0C718.6 832.3 723.9 827.9 729.3 822.0C738.3 812.1 747.4 796.0 756.4 796.0C763.5 796.0 770.7 822.0 777.8 822.0C781.8 822.0 785.9 820.0 789.9 820.0C795.9 820.0 802.0 842.0 808.0 842.0C815.4 842.0 822.9 751.1 830.3 730.0C838.1 707.9 845.9 684.0 853.7 684.0C859.8 684.0 865.9 725.6 872.0 745.0C878.7 766.2 885.3 806.0 892.0 806.0C900.7 806.0 909.5 708.0 918.2 708.0C922.9 708.0 927.7 724.0 932.4 724.0C940.7 724.0 949.1 613.0 957.4 613.0C965.7 613.0 973.9 728.0 982.2 728.0C998.7 728.0 1015.3 534.0 1031.8 534.0C1040.2 534.0 1048.5 628.8 1056.9 688.0C1064.9 744.9 1073.0 845.5 1081.0 889.0C1087.1 922.0 1093.2 964.0 1099.3 964.0C1109.0 964.0 1118.6 903.0 1128.3 903.0C1135.4 903.0 1142.6 1003.8 1149.7 1032.0C1153.1 1045.6 1156.6 1057.1 1160.0 1064.0C1163.0 1070.0 1166.0 1077.5 1169.0 1077.5C1175.8 1077.5 1182.5 1054.5 1189.3 1054.5C1193.9 1054.5 1198.4 1065.6 1203.0 1071.0C1208.2 1077.1 1213.3 1089.0 1218.5 1089.0C1224.5 1089.0 1230.5 1084.5 1236.5 1084.5C1242.1 1084.5 1247.8 1095.9 1253.4 1099.0C1257.9 1101.5 1262.4 1103.0 1266.9 1104.5C1269.9 1105.5 1272.9 1105.8 1275.9 1107.0C1280.6 1108.9 1285.3 1115.7 1290.0 1119.0C1295.3 1122.7 1300.7 1127.5 1306.0 1128.5C1310.7 1129.3 1315.3 1130.0 1320.0 1130.0C1325.0 1130.0 1330.0 1129.4 1335.0 1129.0C1347.9 1127.9 1360.9 1124.0 1373.8 1124.0C1382.5 1124.0 1391.3 1125.2 1400.0 1125.5C1406.7 1125.7 1413.3 1126.0 1420.0 1126.0C1425.8 1126.0 1431.7 1114.8 1437.5 1108.0C1443.1 1101.5 1448.8 1092.6 1454.4 1085.5C1461.4 1076.6 1468.5 1069.5 1475.5 1060.2C1480.3 1053.8 1485.2 1041.6 1490.0 1039.0C1493.3 1037.2 1496.5 1035.6 1499.8 1035.6C1508.2 1035.6 1516.6 1051.8 1525.0 1058.0C1533.2 1064.1 1541.5 1073.6 1549.7 1073.6C1557.1 1073.6 1564.6 1055.7 1572.0 1045.0C1579.1 1034.8 1586.2 1010.3 1593.3 1010.3C1603.1 1010.3 1613.0 1048.6 1622.8 1052.5C1628.5 1054.8 1634.3 1054.8 1640.0 1056.7C1646.7 1058.9 1653.3 1066.8 1660.0 1066.8C1665.0 1066.8 1669.9 1065.0 1674.9 1065.0C1676.8 1065.0 1678.6 1066.5 1680.5 1068.0C1683.0 1070.0 1685.5 1076.7 1688.0 1082.0C1691.1 1088.6 1694.2 1098.5 1697.3 1105.0C1700.4 1111.5 1703.5 1118.8 1706.6 1122.0C1710.4 1125.9 1714.2 1130.0 1718.0 1130.0C1773.7 1130.0 1829.3 1130.0 1885.0 1130.0" stroke="#e02cc4" stroke-width="2.6"/>
</g>
<rect x="1617.3" y="78.0" width="229.5" height="326.7" fill="#fff" stroke="#333" stroke-width="2.2" stroke-dasharray="2.2 6.2"/>
<line x1="1631.6" y1="104.9" x2="1690.8" y2="104.9" stroke="#5c5ca8" stroke-width="3"/>
<text transform="translate(1718.5 118.3) scale(1.0150 1.0000)" font-size="37.0">Sn total</text>
<line x1="1631.6" y1="148.1" x2="1690.8" y2="148.1" stroke="#6ccfc4" stroke-width="3"/>
<text transform="translate(1718.5 158.9) scale(1.0150 1.0000)" font-size="37.0">Sn (s)</text>
<line x1="1631.6" y1="194.0" x2="1690.8" y2="194.0" stroke="#7a5c98" stroke-width="3"/>
<text transform="translate(1718.5 202.8) scale(1.0150 1.0000)" font-size="37.0">Sn (p)</text>
<line x1="1631.6" y1="240.5" x2="1690.8" y2="240.5" stroke="#6e4a62" stroke-width="3"/>
<text transform="translate(1718.5 250.7) scale(1.0150 1.0000)" font-size="37.0">Sn (d)</text>
<line x1="1631.6" y1="284.3" x2="1690.8" y2="284.3" stroke="#a05050" stroke-width="3"/>
<text transform="translate(1718.5 296.6) scale(1.0150 1.0000)" font-size="37.0">O total</text>
<line x1="1631.6" y1="327.2" x2="1690.8" y2="327.2" stroke="#e0c070" stroke-width="3"/>
<text transform="translate(1718.5 339.4) scale(1.0150 1.0000)" font-size="37.0">O (s)</text>
<line x1="1631.6" y1="373.0" x2="1690.8" y2="373.0" stroke="#e070d0" stroke-width="3"/>
<text transform="translate(1718.5 384.3) scale(1.0150 1.0000)" font-size="37.0">O (p)</text>
<path d="M187.0 1130.0H216.0M187.0 952.7H216.0M187.0 775.4H216.0M187.0 598.1H216.0M187.0 420.8H216.0M187.0 243.5H216.0M187.0 66.2H216.0M187.0 1164.5V1134.5M281.3 1164.5V1149.5M375.7 1164.5V1134.5M470.0 1164.5V1149.5M564.3 1164.5V1134.5M658.7 1164.5V1149.5M753.0 1164.5V1134.5M847.3 1164.5V1149.5M941.7 1164.5V1134.5M1036.0 1164.5V1149.5M1130.3 1164.5V1134.5M1224.7 1164.5V1149.5M1319.0 1164.5V1134.5M1413.3 1164.5V1149.5M1507.7 1164.5V1134.5M1602.0 1164.5V1149.5M1696.3 1164.5V1134.5M1790.7 1164.5V1149.5M1885.0 1164.5V1134.5" stroke="#222" stroke-width="2.4" fill="none"/>
<rect x="187.0" y="67.0" width="1698.0" height="1097.5" fill="none" stroke="#111" stroke-width="4.6"/>
<text transform="translate(176.0 1148.0) scale(0.9600 1.0000)" font-size="52.0" text-anchor="end">0</text>
<text transform="translate(176.0 970.7) scale(0.9600 1.0000)" font-size="52.0" text-anchor="end">15</text>
<text transform="translate(176.0 793.4) scale(0.9600 1.0000)" font-size="52.0" text-anchor="end">30</text>
<text transform="translate(176.0 616.1) scale(0.9600 1.0000)" font-size="52.0" text-anchor="end">45</text>
<text transform="translate(176.0 438.8) scale(0.9600 1.0000)" font-size="52.0" text-anchor="end">60</text>
<text transform="translate(176.0 261.5) scale(0.9600 1.0000)" font-size="52.0" text-anchor="end">75</text>
<text transform="translate(176.0 84.2) scale(0.9600 1.0000)" font-size="52.0" text-anchor="end">90</text>
<text transform="translate(230.5 153.3) scale(1.0220 1.0000)" font-size="63.8">a) Model I</text>
<text transform="translate(100.0 615.5) rotate(-90) scale(0.9550 1.0000)" font-size="59.0" text-anchor="middle">Density of States</text>
<g clip-path="url(#cp1)" fill="none" stroke-linejoin="round" stroke-linecap="round">
<path d="M185.0 2259.5C208.7 2259.4 232.3 2259.5 256.0 2259.3C258.2 2259.3 260.3 2259.0 262.5 2258.7C264.7 2258.4 266.8 2257.8 269.0 2257.1C271.2 2256.4 273.3 2255.0 275.5 2253.6C277.7 2252.2 279.8 2250.2 282.0 2248.5C284.2 2246.8 286.3 2244.5 288.5 2243.5C290.7 2242.5 292.8 2241.4 295.0 2241.4C297.2 2241.4 299.3 2242.5 301.5 2243.5C303.7 2244.5 305.8 2246.8 308.0 2248.5C310.2 2250.2 312.3 2252.2 314.5 2253.6C316.7 2255.0 318.8 2256.4 321.0 2257.1C323.2 2257.8 325.3 2258.4 327.5 2258.7C329.7 2259.0 331.8 2259.3 334.0 2259.3C369.3 2259.3 404.7 2259.3 440.0 2259.0C444.0 2259.0 448.0 2254.4 452.0 2250.0C455.7 2245.9 459.5 2236.7 463.2 2227.8C467.5 2217.6 471.8 2211.1 476.1 2189.0C479.3 2172.4 482.6 2104.5 485.8 2050.0C488.0 2013.5 490.1 1963.7 492.3 1920.5C494.5 1877.3 496.6 1831.2 498.8 1791.0C501.0 1750.8 503.1 1709.6 505.3 1677.9C507.4 1646.7 509.6 1613.5 511.7 1597.0C515.5 1567.8 519.2 1537.2 523.0 1537.2C526.8 1537.2 530.6 1561.6 534.4 1574.4C538.7 1588.9 543.0 1601.8 547.3 1619.7C550.5 1633.2 553.8 1645.1 557.0 1668.2C559.2 1683.7 561.3 1712.7 563.5 1742.6C565.7 1772.5 567.8 1815.2 570.0 1855.8C572.1 1895.7 574.3 1945.9 576.4 1985.2C579.6 2044.7 582.9 2111.1 586.1 2147.0C589.3 2182.9 592.6 2215.4 595.8 2227.8C599.2 2240.8 602.6 2250.8 606.0 2253.0C609.6 2255.3 613.3 2257.0 616.9 2257.0C620.6 2257.0 624.3 2251.3 628.0 2248.0C632.0 2244.4 636.0 2238.4 640.0 2235.7C645.4 2232.0 650.8 2231.3 656.2 2227.6C660.1 2224.9 664.1 2221.8 668.0 2215.0C672.1 2207.9 676.3 2187.0 680.4 2159.0C684.4 2131.7 688.5 2051.3 692.5 1997.4C696.5 1943.5 700.6 1866.8 704.6 1835.8C710.0 1794.3 715.4 1751.0 720.8 1751.0C726.2 1751.0 731.5 1791.7 736.9 1835.8C740.9 1868.9 745.0 1981.8 749.0 2037.8C752.4 2084.6 755.7 2138.0 759.1 2159.0C761.4 2173.3 763.7 2189.2 766.0 2189.2C769.8 2189.2 773.5 2152.6 777.3 2118.5C781.3 2082.0 785.4 1990.2 789.4 1916.6C792.8 1855.2 796.1 1750.0 799.5 1714.7C802.6 1682.2 805.7 1648.0 808.8 1648.0C812.4 1648.0 816.1 1680.4 819.7 1714.7C823.1 1746.5 826.4 1861.3 829.8 1916.6C833.9 1983.4 837.9 2041.9 842.0 2085.0C844.2 2108.0 846.3 2143.0 848.5 2143.0C850.7 2143.0 852.8 2107.8 855.0 2085.0C861.4 2017.7 867.8 1896.2 874.2 1815.6C878.3 1764.4 882.3 1690.8 886.4 1674.3C890.8 1656.3 895.3 1642.0 899.7 1642.0C904.7 1642.0 909.6 1678.3 914.6 1714.7C917.3 1734.5 920.0 1790.4 922.7 1815.6C925.4 1840.8 928.1 1876.2 930.8 1876.2C934.8 1876.2 938.9 1779.7 942.9 1714.7C946.3 1660.5 949.6 1550.5 953.0 1512.7C956.4 1474.9 959.7 1434.0 963.1 1434.0C967.1 1434.0 971.2 1531.8 975.2 1593.5C978.6 1645.0 981.9 1725.3 985.3 1775.2C987.1 1801.4 988.8 1843.9 990.6 1843.9C994.9 1843.9 999.2 1718.0 1003.5 1633.9C1006.9 1568.1 1010.2 1451.0 1013.6 1391.5C1017.0 1332.0 1020.3 1250.2 1023.7 1250.2C1027.1 1250.2 1030.4 1299.9 1033.8 1351.2C1037.2 1402.5 1040.5 1569.9 1043.9 1674.3C1047.9 1799.4 1052.0 1959.0 1056.0 2037.8C1058.7 2090.6 1061.4 2135.9 1064.1 2159.0C1066.8 2182.1 1069.5 2207.4 1072.2 2207.4C1076.1 2207.4 1080.1 2186.7 1084.0 2172.0C1087.7 2158.3 1091.3 2133.5 1095.0 2118.0C1098.4 2103.5 1101.9 2092.5 1105.3 2079.7C1108.7 2067.1 1112.0 2059.5 1115.4 2041.8C1117.9 2028.5 1120.5 2001.5 1123.0 1978.5C1125.5 1955.5 1128.1 1922.8 1130.6 1902.5C1133.1 1882.2 1135.7 1860.6 1138.2 1851.9C1141.6 1840.2 1145.0 1829.1 1148.4 1829.1C1151.8 1829.1 1155.1 1840.3 1158.5 1851.9C1161.0 1860.6 1163.6 1891.8 1166.1 1902.5C1169.5 1916.7 1172.8 1932.9 1176.2 1932.9C1179.6 1932.9 1182.9 1907.2 1186.3 1897.5C1190.1 1886.5 1193.9 1869.6 1197.7 1869.6C1200.7 1869.6 1203.6 1886.3 1206.6 1902.5C1209.1 1916.3 1211.7 1953.2 1214.2 1978.5C1216.7 2003.8 1219.3 2029.1 1221.8 2054.4C1224.3 2079.7 1226.9 2110.7 1229.4 2130.4C1232.8 2156.6 1236.1 2178.2 1239.5 2193.7C1243.7 2213.2 1248.0 2231.3 1252.2 2239.2C1257.2 2248.6 1262.3 2257.9 1267.3 2258.0C1321.5 2258.9 1375.8 2259.0 1430.0 2259.0C1435.1 2259.0 1440.2 2245.9 1445.3 2231.6C1449.5 2219.7 1453.8 2188.1 1458.0 2155.7C1460.5 2136.3 1463.1 2105.2 1465.6 2079.7C1467.3 2062.9 1468.9 2041.7 1470.6 2029.1C1472.7 2013.0 1474.9 1996.6 1477.0 1991.1C1479.9 1983.6 1482.9 1977.2 1485.8 1977.2C1489.2 1977.2 1492.6 1993.0 1496.0 1996.2C1500.2 2000.1 1504.4 2003.8 1508.6 2003.8C1512.8 2003.8 1517.1 1997.1 1521.3 1991.1C1525.5 1985.2 1529.7 1969.0 1533.9 1960.8C1538.5 1951.7 1543.2 1938.0 1547.8 1938.0C1551.5 1938.0 1555.3 1951.8 1559.0 1960.0C1562.5 1967.6 1565.9 1981.8 1569.4 1986.0C1573.2 1990.6 1577.0 1994.9 1580.8 1994.9C1584.6 1994.9 1588.4 1986.5 1592.2 1978.5C1595.6 1971.4 1598.9 1956.3 1602.3 1940.5C1605.7 1924.7 1609.0 1893.0 1612.4 1877.2C1615.8 1861.4 1619.1 1848.1 1622.5 1839.2C1626.7 1828.0 1631.0 1819.5 1635.2 1813.9C1639.4 1808.3 1643.6 1804.1 1647.8 1801.3C1652.9 1797.9 1657.9 1796.3 1663.0 1793.7C1667.7 1791.3 1672.3 1786.1 1677.0 1786.1C1679.9 1786.1 1682.9 1790.3 1685.8 1796.2C1688.3 1801.3 1690.9 1826.5 1693.4 1851.9C1695.1 1869.0 1696.8 1906.1 1698.5 1927.8C1701.0 1959.7 1703.5 1982.1 1706.0 2010.0C1708.5 2037.9 1711.0 2068.4 1713.5 2095.0C1716.5 2126.9 1719.5 2162.0 1722.5 2185.0C1725.5 2208.0 1728.5 2232.7 1731.5 2241.0C1734.5 2249.3 1737.5 2255.8 1740.5 2257.0C1744.3 2258.5 1748.2 2259.5 1752.0 2259.5C1797.0 2259.5 1842.0 2259.5 1887.0 2259.5" stroke="#141414" stroke-width="2.6"/>
<path d="M185.0 2259.5C275.0 2259.3 365.0 2259.5 455.0 2259.0C459.9 2259.0 464.8 2251.1 469.7 2244.0C477.2 2233.0 484.8 2209.1 492.3 2179.3C497.7 2158.0 503.1 2106.6 508.5 2082.3C513.9 2058.0 519.3 2036.7 524.7 2024.0C530.6 2010.1 536.6 1993.3 542.5 1993.3C547.3 1993.3 552.2 2013.1 557.0 2030.5C562.4 2049.9 567.8 2098.3 573.2 2130.8C579.7 2169.7 586.1 2237.3 592.6 2244.0C600.4 2252.1 608.2 2257.0 616.0 2257.0C624.0 2257.0 632.0 2252.1 640.0 2250.0C646.7 2248.2 653.3 2247.7 660.0 2245.0C665.0 2242.9 670.0 2237.5 675.0 2230.0C680.0 2222.5 685.0 2202.3 690.0 2185.0C693.3 2173.5 696.7 2157.8 700.0 2145.0C703.3 2132.2 706.7 2114.6 710.0 2108.0C713.6 2100.8 717.2 2093.4 720.8 2093.4C727.2 2093.4 733.6 2129.5 740.0 2150.0C748.7 2177.7 757.3 2241.7 766.0 2241.7C774.0 2241.7 782.0 2174.1 790.0 2150.0C796.3 2131.1 802.5 2102.5 808.8 2102.5C815.2 2102.5 821.6 2140.8 828.0 2160.0C835.1 2181.2 842.1 2223.5 849.2 2223.5C856.1 2223.5 863.1 2180.1 870.0 2170.0C879.1 2156.7 888.3 2143.0 897.4 2143.0C902.6 2143.0 907.8 2159.2 913.0 2165.0C918.6 2171.3 924.3 2180.4 929.9 2180.4C935.3 2180.4 940.6 2144.3 946.0 2130.0C951.8 2114.6 957.6 2089.8 963.4 2089.8C973.4 2089.8 983.4 2195.3 993.4 2195.3C1003.5 2195.3 1013.6 2161.0 1023.7 2161.0C1032.5 2161.0 1041.2 2218.5 1050.0 2230.0C1057.3 2239.7 1064.7 2249.7 1072.0 2249.7C1078.0 2249.7 1084.0 2243.2 1090.0 2238.0C1095.1 2233.6 1100.2 2228.1 1105.3 2219.0C1109.5 2211.5 1113.8 2196.9 1118.0 2181.0C1122.2 2165.2 1126.4 2126.2 1130.6 2117.7C1136.9 2104.9 1143.3 2094.9 1149.6 2094.9C1158.0 2094.9 1166.5 2119.0 1174.9 2119.0C1182.8 2119.0 1190.6 2077.2 1198.5 2077.2C1202.9 2077.2 1207.2 2101.0 1211.6 2117.7C1215.8 2133.9 1220.1 2164.0 1224.3 2181.0C1230.2 2204.6 1236.1 2230.5 1242.0 2239.2C1248.7 2249.1 1255.3 2257.9 1262.0 2258.0C1321.3 2258.5 1380.7 2258.5 1440.0 2258.5C1446.0 2258.5 1452.0 2236.3 1458.0 2219.0C1462.2 2206.9 1466.4 2178.6 1470.6 2168.4C1475.8 2155.7 1481.1 2141.8 1486.3 2141.8C1495.0 2141.8 1503.7 2151.9 1512.4 2151.9C1523.8 2151.9 1535.2 2134.2 1546.6 2134.2C1558.4 2134.2 1570.2 2155.7 1582.0 2155.7C1588.8 2155.7 1595.5 2139.3 1602.3 2130.4C1609.0 2121.6 1615.8 2109.2 1622.5 2102.5C1626.7 2098.3 1631.0 2092.4 1635.2 2092.4C1643.1 2092.4 1651.1 2092.4 1659.0 2092.4C1665.8 2092.4 1672.7 2091.1 1679.5 2091.1C1682.3 2091.1 1685.2 2098.7 1688.0 2105.0C1691.5 2112.8 1695.0 2128.3 1698.5 2143.0C1702.7 2160.6 1706.9 2190.7 1711.1 2206.3C1717.1 2228.5 1723.0 2257.8 1729.0 2258.0C1781.7 2259.4 1834.3 2259.0 1887.0 2259.5" stroke="#23238a" stroke-width="2.6"/>
<path d="M185.0 2259.5C283.3 2259.0 381.7 2259.4 480.0 2258.0C484.1 2257.9 488.2 2224.8 492.3 2205.0C497.7 2178.9 503.1 2138.2 508.5 2114.6C513.9 2091.0 519.3 2068.5 524.7 2056.4C532.2 2039.5 539.8 2020.8 547.3 2020.8C551.5 2020.8 555.8 2035.9 560.0 2050.0C564.4 2064.7 568.8 2103.9 573.2 2130.8C578.6 2163.9 584.0 2216.1 589.4 2230.0C594.9 2244.3 600.5 2257.0 606.0 2257.0C617.3 2257.0 628.7 2256.1 640.0 2255.0C646.7 2254.3 653.3 2252.5 660.0 2250.0C666.7 2247.5 673.3 2243.0 680.0 2235.0C685.0 2229.0 690.0 2210.3 695.0 2195.0C698.3 2184.8 701.7 2172.1 705.0 2160.0C707.7 2150.3 710.3 2135.5 713.0 2130.0C715.6 2124.7 718.2 2119.0 720.8 2119.0C728.9 2119.0 736.9 2166.5 745.0 2190.0C752.0 2210.4 759.0 2251.0 766.0 2251.0C777.3 2251.0 788.7 2250.5 800.0 2250.0C826.7 2248.8 853.3 2239.5 880.0 2237.0C886.5 2236.4 892.9 2236.0 899.4 2235.6C909.6 2234.9 919.8 2234.7 930.0 2233.6C939.8 2232.5 949.6 2223.7 959.4 2223.7C967.9 2223.7 976.5 2242.4 985.0 2242.4C997.9 2242.4 1010.8 2227.6 1023.7 2227.6C1039.8 2227.6 1055.9 2252.0 1072.0 2252.0C1084.8 2252.0 1097.6 2242.6 1110.4 2231.6C1117.1 2225.8 1123.9 2205.1 1130.6 2196.2C1136.1 2188.9 1141.6 2178.5 1147.1 2178.5C1156.0 2178.5 1164.8 2184.8 1173.7 2184.8C1182.1 2184.8 1190.6 2155.7 1199.0 2155.7C1204.1 2155.7 1209.1 2181.7 1214.2 2193.7C1221.8 2211.8 1229.4 2237.4 1237.0 2245.0C1243.7 2251.6 1250.3 2258.0 1257.0 2258.0C1318.0 2258.5 1379.0 2258.5 1440.0 2258.5C1450.0 2258.5 1460.0 2249.3 1470.0 2249.0C1496.7 2248.3 1523.3 2248.6 1550.0 2248.0C1560.0 2247.8 1570.0 2247.0 1580.0 2246.0C1588.3 2245.2 1596.7 2243.9 1605.0 2242.0C1611.0 2240.6 1617.0 2236.9 1623.0 2235.6C1633.7 2233.3 1644.3 2232.1 1655.0 2231.0C1663.3 2230.2 1671.5 2229.0 1679.8 2229.0C1683.9 2229.0 1687.9 2232.3 1692.0 2235.0C1696.3 2237.8 1700.7 2244.5 1705.0 2248.0C1710.0 2252.0 1715.0 2257.9 1720.0 2258.0C1775.7 2259.4 1831.3 2259.0 1887.0 2259.5" stroke="#38c4bc" stroke-width="2.4"/>
<path d="M185.0 2259.5C283.3 2259.0 381.7 2259.4 480.0 2258.0C486.7 2257.9 493.3 2246.4 500.0 2240.0C506.1 2234.2 512.1 2221.4 518.2 2221.4C525.5 2221.4 532.7 2226.9 540.0 2230.0C551.1 2234.7 562.1 2240.6 573.2 2245.5C582.1 2249.5 591.1 2257.0 600.0 2257.0C613.3 2257.0 626.7 2257.0 640.0 2257.0C660.0 2257.0 680.0 2250.6 700.0 2247.0C706.9 2245.7 713.9 2243.0 720.8 2243.0C735.9 2243.0 750.9 2255.0 766.0 2255.0C774.0 2255.0 782.0 2201.1 790.0 2180.0C796.3 2163.5 802.5 2136.7 808.8 2136.7C815.9 2136.7 822.9 2172.0 830.0 2190.0C836.4 2206.3 842.8 2239.7 849.2 2239.7C864.9 2239.7 880.7 2187.3 896.4 2187.3C901.6 2187.3 906.8 2199.9 912.0 2205.0C917.3 2210.2 922.6 2218.8 927.9 2218.8C933.6 2218.8 939.3 2192.7 945.0 2180.0C951.0 2166.6 957.1 2140.7 963.1 2140.7C973.2 2140.7 983.3 2215.5 993.4 2215.5C1002.8 2215.5 1012.3 2207.4 1021.7 2207.4C1038.5 2207.4 1055.2 2255.0 1072.0 2255.0C1084.7 2255.0 1097.3 2246.0 1110.0 2235.0C1116.9 2229.0 1123.7 2205.0 1130.6 2196.2C1136.1 2189.2 1141.6 2180.0 1147.1 2180.0C1157.2 2180.0 1167.4 2196.2 1177.5 2196.2C1184.2 2196.2 1191.0 2184.8 1197.7 2184.8C1203.2 2184.8 1208.7 2194.6 1214.2 2202.0C1221.8 2212.2 1229.4 2240.5 1237.0 2247.0C1243.7 2252.7 1250.3 2258.0 1257.0 2258.0C1318.0 2258.5 1379.0 2258.5 1440.0 2258.5C1446.7 2258.5 1453.3 2241.8 1460.0 2225.0C1463.5 2216.1 1467.1 2188.2 1470.6 2180.0C1475.3 2169.1 1479.9 2158.2 1484.6 2158.2C1493.9 2158.2 1503.1 2170.9 1512.4 2170.9C1523.4 2170.9 1534.3 2158.2 1545.3 2158.2C1559.4 2158.2 1573.4 2176.0 1587.5 2176.0C1595.0 2176.0 1602.5 2159.9 1610.0 2153.5C1616.0 2148.4 1622.0 2140.5 1628.0 2140.0C1637.0 2139.3 1646.0 2139.0 1655.0 2139.0C1663.3 2139.0 1671.5 2139.0 1679.8 2139.0C1682.8 2139.0 1685.8 2144.1 1688.8 2149.0C1692.5 2155.1 1696.3 2171.7 1700.0 2185.0C1703.8 2198.4 1707.5 2219.9 1711.3 2230.0C1715.0 2240.0 1718.8 2249.6 1722.5 2252.5C1726.7 2255.8 1730.8 2258.4 1735.0 2258.5C1785.7 2259.4 1836.3 2259.2 1887.0 2259.5" stroke="#6a3a8c" stroke-width="2.4"/>
<path d="M185.0 2259.5C376.7 2259.3 568.3 2259.5 760.0 2259.0C770.0 2259.0 780.0 2257.5 790.0 2255.0C796.3 2253.4 802.5 2237.0 808.8 2237.0C815.9 2237.0 822.9 2255.0 830.0 2255.0C846.7 2255.0 863.3 2247.8 880.0 2244.0C886.5 2242.5 892.9 2239.5 899.4 2239.5C909.6 2239.5 919.8 2249.3 930.0 2249.3C940.8 2249.3 951.6 2243.4 962.4 2243.4C971.6 2243.4 980.8 2249.0 990.0 2249.0C1001.2 2249.0 1012.5 2246.0 1023.7 2246.0C1035.8 2246.0 1047.9 2257.9 1060.0 2258.0C1186.7 2258.9 1313.3 2259.0 1440.0 2259.0C1460.0 2259.0 1480.0 2255.6 1500.0 2254.0C1526.7 2251.9 1553.3 2251.6 1580.0 2248.0C1588.3 2246.9 1596.7 2242.6 1605.0 2240.0C1611.0 2238.1 1617.0 2234.5 1623.0 2234.5C1641.9 2234.5 1660.9 2235.2 1679.8 2237.0C1684.9 2237.5 1689.9 2240.5 1695.0 2243.0C1700.7 2245.8 1706.3 2251.6 1712.0 2254.0C1717.3 2256.2 1722.7 2259.0 1728.0 2259.0C1781.0 2259.5 1834.0 2259.3 1887.0 2259.5" stroke="#c4a4b8" stroke-width="2.4"/>
<path d="M185.0 2259.5C208.7 2259.5 232.3 2259.5 256.0 2259.4C258.2 2259.4 260.3 2259.2 262.5 2259.1C264.7 2258.9 266.8 2258.6 269.0 2258.2C271.2 2257.8 273.3 2257.1 275.5 2256.4C277.7 2255.7 279.8 2254.6 282.0 2253.7C284.2 2252.8 286.3 2251.6 288.5 2251.1C290.7 2250.6 292.8 2250.0 295.0 2250.0C297.2 2250.0 299.3 2250.6 301.5 2251.1C303.7 2251.6 305.8 2252.8 308.0 2253.7C310.2 2254.6 312.3 2255.7 314.5 2256.4C316.7 2257.1 318.8 2257.8 321.0 2258.2C323.2 2258.6 325.3 2258.9 327.5 2259.1C329.7 2259.2 331.8 2259.4 334.0 2259.4C372.7 2259.4 411.3 2259.3 450.0 2259.0C458.2 2258.9 466.4 2253.2 474.6 2243.5C480.5 2236.5 486.4 2185.3 492.3 2147.0C497.7 2111.9 503.1 2042.9 508.5 2017.6C512.8 1997.5 517.1 1973.9 521.4 1973.9C527.9 1973.9 534.3 2009.5 540.8 2024.0C546.2 2036.1 551.6 2041.4 557.0 2056.4C562.4 2071.4 567.8 2102.7 573.2 2130.8C578.6 2158.9 584.0 2213.3 589.4 2227.8C594.9 2242.7 600.5 2255.4 606.0 2256.5C610.7 2257.4 615.3 2258.0 620.0 2258.0C626.7 2258.0 633.3 2252.9 640.0 2250.0C650.0 2245.6 660.0 2244.1 670.0 2235.0C676.7 2228.9 683.3 2197.2 690.0 2170.0C695.0 2149.6 700.0 2107.2 705.0 2090.0C710.3 2071.8 715.5 2049.9 720.8 2049.9C727.2 2049.9 733.6 2086.5 740.0 2110.0C748.7 2141.8 757.3 2227.6 766.0 2227.6C774.0 2227.6 782.0 2099.5 790.0 2050.0C796.3 2011.2 802.5 1948.9 808.8 1948.9C815.9 1948.9 822.9 2015.8 830.0 2060.0C836.4 2100.0 842.8 2207.4 849.2 2207.4C857.8 2207.4 866.4 2097.6 875.0 2050.0C883.2 2004.4 891.5 1924.7 899.7 1924.7C904.8 1924.7 909.9 1955.2 915.0 1975.0C920.3 1995.4 925.5 2049.9 930.8 2049.9C936.2 2049.9 941.6 1963.9 947.0 1920.0C952.4 1876.4 957.7 1787.3 963.1 1787.3C967.9 1787.3 972.7 1870.2 977.5 1908.0C979.9 1926.9 982.3 1945.1 984.7 1962.0C986.8 1976.8 988.9 2004.0 991.0 2004.0C993.0 2004.0 995.0 1989.3 997.0 1975.0C998.7 1963.1 1000.3 1935.2 1002.0 1910.0C1003.7 1884.8 1005.3 1845.3 1007.0 1820.0C1012.6 1735.6 1018.1 1613.7 1023.7 1613.7C1029.1 1613.7 1034.6 1722.7 1040.0 1800.0C1045.0 1871.1 1050.0 2017.5 1055.0 2080.0C1060.7 2151.6 1066.5 2239.7 1072.2 2239.7C1078.1 2239.7 1084.1 2223.5 1090.0 2215.0C1097.6 2204.1 1105.3 2196.7 1112.9 2181.0C1117.1 2172.3 1121.4 2153.2 1125.6 2143.0C1132.5 2126.4 1139.4 2102.5 1146.3 2102.5C1157.1 2102.5 1167.9 2145.6 1178.7 2145.6C1184.8 2145.6 1190.9 2130.4 1197.0 2130.4C1202.7 2130.4 1208.5 2164.6 1214.2 2181.0C1221.8 2202.7 1229.4 2235.6 1237.0 2244.0C1243.7 2251.4 1250.3 2258.0 1257.0 2258.0C1318.0 2258.5 1379.0 2258.5 1440.0 2258.5C1446.7 2258.5 1453.3 2249.8 1460.0 2245.0C1468.6 2238.9 1477.2 2225.3 1485.8 2225.3C1494.2 2225.3 1502.6 2226.5 1511.0 2226.5C1523.7 2226.5 1536.4 2215.2 1549.1 2215.2C1560.1 2215.2 1571.0 2221.5 1582.0 2221.5C1595.5 2221.5 1609.0 2198.1 1622.5 2197.5C1641.5 2196.6 1660.5 2196.2 1679.5 2196.2C1685.8 2196.2 1692.2 2210.1 1698.5 2218.5C1707.0 2229.8 1715.5 2257.8 1724.0 2258.0C1778.3 2259.3 1832.7 2259.0 1887.0 2259.5" stroke="#c0302c" stroke-width="2.6"/>
<path d="M185.0 2259.5C283.3 2259.3 381.7 2259.4 480.0 2259.0C492.7 2258.9 505.5 2252.0 518.2 2252.0C532.1 2252.0 546.1 2258.0 560.0 2258.0C600.0 2258.0 640.0 2256.5 680.0 2252.0C686.7 2251.2 693.3 2244.4 700.0 2242.0C706.9 2239.5 713.9 2236.0 720.8 2236.0C728.9 2236.0 736.9 2241.5 745.0 2245.0C752.0 2248.1 759.0 2256.0 766.0 2256.0C800.7 2256.0 835.3 2253.8 870.0 2250.0C878.8 2249.0 887.7 2243.0 896.5 2243.0C907.7 2243.0 918.8 2247.4 930.0 2250.0C936.7 2251.5 943.3 2255.0 950.0 2255.0C974.6 2255.0 999.1 2254.0 1023.7 2254.0C1042.5 2254.0 1061.2 2254.0 1080.0 2254.0C1136.7 2254.0 1193.3 2254.0 1250.0 2254.0C1256.7 2254.0 1263.3 2259.0 1270.0 2259.0C1326.7 2259.0 1383.3 2259.0 1440.0 2259.0C1453.3 2259.0 1466.7 2253.4 1480.0 2253.0C1503.3 2252.3 1526.7 2252.0 1550.0 2252.0C1600.0 2252.0 1650.0 2252.2 1700.0 2253.0C1710.0 2253.2 1720.0 2258.9 1730.0 2259.0C1782.3 2259.4 1834.7 2259.3 1887.0 2259.5" stroke="#e2ab4a" stroke-width="2.4"/>
<path d="M185.0 2259.5C208.7 2259.5 232.3 2259.5 256.0 2259.4C258.2 2259.4 260.3 2259.3 262.5 2259.2C264.7 2259.1 266.8 2258.8 269.0 2258.5C271.2 2258.2 273.3 2257.7 275.5 2257.1C277.7 2256.5 279.8 2255.7 282.0 2255.0C284.2 2254.3 286.3 2253.3 288.5 2252.9C290.7 2252.5 292.8 2252.0 295.0 2252.0C297.2 2252.0 299.3 2252.5 301.5 2252.9C303.7 2253.3 305.8 2254.3 308.0 2255.0C310.2 2255.7 312.3 2256.5 314.5 2257.1C316.7 2257.7 318.8 2258.2 321.0 2258.5C323.2 2258.8 325.3 2259.1 327.5 2259.2C329.7 2259.3 331.8 2259.4 334.0 2259.4C372.7 2259.4 411.3 2259.3 450.0 2259.0C458.2 2258.9 466.4 2253.8 474.6 2245.0C480.5 2238.7 486.4 2191.3 492.3 2155.0C497.7 2121.8 503.1 2057.8 508.5 2030.0C512.3 2010.6 516.0 1985.2 519.8 1985.2C526.8 1985.2 533.8 2016.2 540.8 2030.0C546.2 2040.7 551.6 2045.8 557.0 2060.0C562.4 2074.2 567.8 2105.4 573.2 2133.0C578.6 2160.6 584.0 2214.8 589.4 2229.0C594.9 2243.6 600.5 2256.3 606.0 2257.0C610.7 2257.6 615.3 2258.0 620.0 2258.0C626.7 2258.0 633.3 2253.6 640.0 2251.0C650.0 2247.0 660.0 2245.5 670.0 2237.0C676.7 2231.4 683.3 2202.4 690.0 2178.0C695.0 2159.7 700.0 2122.8 705.0 2108.0C710.3 2092.4 715.5 2074.0 720.8 2074.0C727.2 2074.0 733.6 2100.7 740.0 2120.0C748.7 2146.1 757.3 2229.0 766.0 2229.0C774.0 2229.0 782.0 2104.6 790.0 2055.0C796.3 2016.1 802.5 1952.0 808.8 1952.0C815.9 1952.0 822.9 2019.0 830.0 2063.0C836.4 2102.8 842.8 2209.0 849.2 2209.0C857.8 2209.0 866.4 2101.7 875.0 2055.0C883.2 2010.3 891.5 1932.0 899.7 1932.0C904.8 1932.0 909.9 1961.0 915.0 1980.0C920.3 1999.7 925.5 2053.0 930.8 2053.0C936.2 2053.0 941.6 1967.0 947.0 1923.0C952.4 1879.3 957.7 1790.0 963.1 1790.0C967.9 1790.0 972.7 1874.1 977.5 1913.0C979.9 1932.4 982.3 1952.3 984.7 1969.0C986.8 1983.6 988.9 2009.0 991.0 2009.0C993.0 2009.0 995.0 1993.6 997.0 1979.0C998.7 1966.8 1000.3 1939.3 1002.0 1914.0C1003.7 1888.7 1005.3 1848.4 1007.0 1823.0C1012.6 1738.0 1018.1 1616.0 1023.7 1616.0C1029.1 1616.0 1034.6 1725.5 1040.0 1803.0C1045.0 1874.3 1050.0 2021.0 1055.0 2083.0C1060.7 2154.1 1066.5 2241.0 1072.2 2241.0C1078.1 2241.0 1084.1 2226.2 1090.0 2218.0C1097.6 2207.5 1105.3 2199.7 1112.9 2184.0C1117.1 2175.3 1121.4 2156.3 1125.6 2146.0C1132.5 2129.3 1139.4 2105.0 1146.3 2105.0C1157.1 2105.0 1167.9 2148.0 1178.7 2148.0C1184.8 2148.0 1190.9 2133.0 1197.0 2133.0C1202.7 2133.0 1208.5 2167.7 1214.2 2184.0C1221.8 2205.6 1229.4 2238.6 1237.0 2246.0C1243.7 2252.5 1250.3 2258.0 1257.0 2258.0C1318.0 2258.5 1379.0 2258.5 1440.0 2258.5C1446.7 2258.5 1453.3 2252.7 1460.0 2249.0C1468.6 2244.2 1477.2 2231.5 1485.8 2231.5C1494.2 2231.5 1502.6 2232.0 1511.0 2232.0C1523.7 2232.0 1536.4 2220.0 1549.1 2220.0C1560.1 2220.0 1571.0 2226.5 1582.0 2226.5C1595.5 2226.5 1609.0 2203.2 1622.5 2203.0C1641.5 2202.7 1660.5 2202.5 1679.5 2202.5C1685.8 2202.5 1692.2 2215.4 1698.5 2223.0C1707.0 2233.2 1715.5 2257.8 1724.0 2258.0C1778.3 2259.3 1832.7 2259.0 1887.0 2259.5" stroke="#e02cc4" stroke-width="2.6"/>
</g>
<rect x="1605.2" y="1201.1" width="242.6" height="347.7" fill="#fff" stroke="#333" stroke-width="2.2" stroke-dasharray="2.2 6.2"/>
<line x1="1619.5" y1="1230.0" x2="1680.3" y2="1230.0" stroke="#5c5ca8" stroke-width="3"/>
<text transform="translate(1708.5 1245.4) scale(1.0200 1.0000)" font-size="40.0">Sn total</text>
<line x1="1619.5" y1="1275.4" x2="1680.3" y2="1275.4" stroke="#6ccfc4" stroke-width="3"/>
<text transform="translate(1708.5 1287.5) scale(1.0200 1.0000)" font-size="40.0">Sn (s)</text>
<line x1="1619.5" y1="1325.6" x2="1680.3" y2="1325.6" stroke="#8a6c9c" stroke-width="3"/>
<text transform="translate(1708.5 1338.0) scale(1.0200 1.0000)" font-size="40.0">Sn (p)</text>
<line x1="1619.5" y1="1375.1" x2="1680.3" y2="1375.1" stroke="#b8a0b0" stroke-width="3"/>
<text transform="translate(1708.5 1387.7) scale(1.0200 1.0000)" font-size="40.0">Sn (d)</text>
<line x1="1619.5" y1="1421.1" x2="1680.3" y2="1421.1" stroke="#b04040" stroke-width="3"/>
<text transform="translate(1708.5 1436.0) scale(1.0200 1.0000)" font-size="40.0">O total</text>
<line x1="1619.5" y1="1466.9" x2="1680.3" y2="1466.9" stroke="#e8c878" stroke-width="3"/>
<text transform="translate(1708.5 1483.7) scale(1.0200 1.0000)" font-size="40.0">O(s)</text>
<line x1="1619.5" y1="1516.5" x2="1680.3" y2="1516.5" stroke="#c060b0" stroke-width="3"/>
<text transform="translate(1708.5 1528.0) scale(1.0200 1.0000)" font-size="40.0">O(p)</text>
<path d="M185.2 2259.5H214.2M185.2 2110.8H214.2M185.2 1962.1H214.2M185.2 1813.4H214.2M185.2 1664.7H214.2M185.2 1516.0H214.2M185.2 1367.3H214.2M185.2 1218.6H214.2M185.2 2288.0V2258.0M279.9 2288.0V2273.0M374.5 2288.0V2258.0M469.2 2288.0V2273.0M563.8 2288.0V2258.0M658.5 2288.0V2273.0M753.1 2288.0V2258.0M847.8 2288.0V2273.0M942.4 2288.0V2258.0M1037.1 2288.0V2273.0M1131.8 2288.0V2258.0M1226.4 2288.0V2273.0M1321.1 2288.0V2258.0M1415.7 2288.0V2273.0M1510.4 2288.0V2258.0M1605.0 2288.0V2273.0M1699.7 2288.0V2258.0M1794.3 2288.0V2273.0M1889.0 2288.0V2258.0" stroke="#222" stroke-width="2.4" fill="none"/>
<rect x="185.2" y="1189.5" width="1703.8" height="1098.5" fill="none" stroke="#111" stroke-width="4.6"/>
<text transform="translate(176.0 2277.5) scale(0.9600 1.0000)" font-size="52.0" text-anchor="end">0</text>
<text transform="translate(176.0 2128.8) scale(0.9600 1.0000)" font-size="52.0" text-anchor="end">50</text>
<text transform="translate(176.0 1980.1) scale(0.9600 1.0000)" font-size="52.0" text-anchor="end">100</text>
<text transform="translate(176.0 1831.4) scale(0.9600 1.0000)" font-size="52.0" text-anchor="end">150</text>
<text transform="translate(176.0 1682.7) scale(0.9600 1.0000)" font-size="52.0" text-anchor="end">200</text>
<text transform="translate(176.0 1534.0) scale(0.9600 1.0000)" font-size="52.0" text-anchor="end">250</text>
<text transform="translate(176.0 1385.3) scale(0.9600 1.0000)" font-size="52.0" text-anchor="end">300</text>
<text transform="translate(176.0 1236.6) scale(0.9600 1.0000)" font-size="52.0" text-anchor="end">350</text>
<text transform="translate(228.0 1279.1) scale(1.0100 1.0000)" font-size="64.4">b) Model II</text>
<text transform="translate(96.0 1743.7) rotate(-90) scale(0.9650 1.0000)" font-size="59.0" text-anchor="middle">Density of States</text>
<g clip-path="url(#cp2)" fill="none" stroke-linejoin="round" stroke-linecap="round">
<path d="M188.0 3345.5C228.8 3344.8 269.5 3345.3 310.3 3343.4C312.4 3343.3 314.5 3340.2 316.6 3337.1C318.7 3334.1 320.7 3327.5 322.8 3319.8C324.9 3311.9 327.0 3298.3 329.1 3283.8C331.2 3269.6 333.2 3247.7 335.3 3230.2C337.4 3212.4 339.5 3188.2 341.6 3177.7C343.7 3167.3 345.7 3155.4 347.8 3155.4C349.9 3155.4 352.0 3167.2 354.1 3177.7C356.2 3188.0 358.2 3212.7 360.3 3230.2C362.4 3248.0 364.5 3269.3 366.6 3283.8C368.7 3298.1 370.7 3312.1 372.8 3319.8C374.9 3327.6 377.0 3334.0 379.1 3337.1C381.2 3340.2 383.2 3343.3 385.3 3343.4C414.1 3344.9 442.9 3345.0 471.7 3345.0C474.5 3345.0 477.2 3338.1 480.0 3330.0C482.6 3322.4 485.2 3293.8 487.8 3273.5C490.9 3249.5 493.9 3212.0 497.0 3195.0C500.4 3176.0 503.9 3153.2 507.3 3153.2C510.5 3153.2 513.8 3176.5 517.0 3190.0C520.0 3202.5 523.0 3231.4 526.0 3231.4C529.5 3231.4 532.9 3179.9 536.4 3144.1C539.6 3110.7 542.9 3043.0 546.1 3014.7C549.1 2988.5 552.1 2955.8 555.1 2955.8C558.6 2955.8 562.0 2993.2 565.5 3014.7C570.0 3042.7 574.5 3108.5 579.0 3108.5C584.2 3108.5 589.4 3066.3 594.6 3047.0C601.3 3022.3 607.9 2977.5 614.6 2977.5C618.7 2977.5 622.9 3002.4 627.0 3030.9C629.0 3044.7 631.0 3082.6 633.0 3110.0C635.3 3141.5 637.6 3183.0 639.9 3208.8C643.3 3246.6 646.6 3282.9 650.0 3300.0C653.7 3318.6 657.3 3338.5 661.0 3338.5C665.9 3338.5 670.7 3298.6 675.6 3270.5C679.9 3245.6 684.2 3189.8 688.5 3173.5C692.3 3159.2 696.0 3144.4 699.8 3144.4C704.7 3144.4 709.5 3162.2 714.4 3162.2C718.7 3162.2 723.0 3110.4 727.3 3092.6C732.2 3072.5 737.0 3044.1 741.9 3044.1C746.8 3044.1 751.6 3086.5 756.5 3108.8C759.9 3124.5 763.4 3157.3 766.8 3157.3C770.9 3157.3 775.0 3088.2 779.1 3060.3C783.1 3033.1 787.1 2988.5 791.1 2988.5C794.6 2988.5 798.2 3040.3 801.7 3076.4C805.0 3109.8 808.2 3176.2 811.5 3205.8C815.5 3241.8 819.4 3286.7 823.4 3286.7C828.0 3286.7 832.7 3209.6 837.3 3173.5C841.6 3139.8 846.0 3091.4 850.3 3076.4C854.6 3061.5 858.9 3050.0 863.2 3047.3C867.5 3044.6 871.8 3045.6 876.1 3042.5C879.4 3040.2 882.6 3011.1 885.9 2995.6C889.7 2977.7 893.4 2942.2 897.2 2942.2C901.0 2942.2 904.7 2982.8 908.5 3011.7C911.7 3036.5 915.0 3094.4 918.2 3108.8C920.4 3118.4 922.5 3124.8 924.7 3128.2C927.9 3133.2 931.2 3133.0 934.4 3137.9C939.8 3146.1 945.1 3201.0 950.5 3201.0C952.7 3201.0 954.8 3178.3 957.0 3160.0C959.2 3141.7 961.3 3111.9 963.5 3076.4C965.7 3040.9 967.8 2977.8 970.0 2930.0C972.0 2885.8 974.0 2819.6 976.0 2800.0C978.3 2777.1 980.7 2756.5 983.0 2756.5C986.0 2756.5 989.0 2777.2 992.0 2790.0C995.0 2802.9 998.1 2835.5 1001.1 2835.5C1004.7 2835.5 1008.4 2797.4 1012.0 2780.0C1015.7 2762.1 1019.5 2729.2 1023.2 2729.2C1028.9 2729.2 1034.7 2791.5 1040.4 2821.1C1044.2 2840.9 1048.1 2856.7 1051.9 2878.6C1054.8 2895.2 1057.7 2915.5 1060.6 2936.0C1064.7 2965.0 1068.8 3030.8 1072.9 3030.8C1076.4 3030.8 1080.0 2937.7 1083.5 2878.6C1086.4 2830.1 1089.3 2737.6 1092.2 2706.2C1095.1 2675.1 1097.9 2642.0 1100.8 2642.0C1103.7 2642.0 1106.5 2669.2 1109.4 2706.2C1111.3 2730.7 1113.2 2853.5 1115.1 2907.3C1118.0 2989.5 1120.9 3052.2 1123.8 3108.4C1126.7 3164.0 1129.5 3223.6 1132.4 3252.0C1136.5 3292.6 1140.6 3335.4 1144.7 3335.4C1149.2 3335.4 1153.7 3307.0 1158.2 3280.8C1162.0 3258.5 1165.9 3196.1 1169.7 3165.9C1172.6 3143.0 1175.5 3110.2 1178.4 3108.4C1181.3 3106.6 1184.1 3107.4 1187.0 3105.6C1189.9 3103.8 1192.7 3077.4 1195.6 3051.0C1198.5 3024.6 1201.3 2963.6 1204.2 2907.3C1207.1 2850.4 1210.0 2757.2 1212.9 2700.0C1215.0 2658.6 1217.1 2621.8 1219.2 2592.5C1221.1 2566.0 1223.0 2525.0 1224.9 2525.0C1227.0 2525.0 1229.1 2563.5 1231.2 2592.5C1233.1 2618.3 1234.9 2655.4 1236.8 2700.0C1238.4 2738.3 1240.0 2803.4 1241.6 2849.8C1244.5 2933.0 1247.3 3018.5 1250.2 3079.7C1254.0 3161.6 1257.9 3249.3 1261.7 3280.8C1265.5 3312.3 1269.4 3341.2 1273.2 3342.6C1278.8 3344.6 1284.4 3345.5 1290.0 3345.5C1371.0 3345.5 1452.1 3345.5 1533.1 3345.0C1536.1 3345.0 1539.0 3337.1 1542.0 3330.0C1544.9 3323.0 1547.9 3312.5 1550.8 3293.4C1553.8 3274.1 1556.7 3207.4 1559.7 3160.6C1562.6 3114.3 1565.6 3059.4 1568.5 3013.1C1570.5 2982.1 1572.4 2940.1 1574.4 2924.6C1577.2 2902.8 1579.9 2881.8 1582.7 2881.8C1586.1 2881.8 1589.6 2904.0 1593.0 2920.0C1596.8 2937.8 1600.7 2992.5 1604.5 2992.5C1608.0 2992.5 1611.5 2942.3 1615.0 2920.0C1619.2 2893.5 1623.3 2846.4 1627.5 2846.4C1630.5 2846.4 1633.4 2870.6 1636.4 2895.1C1639.3 2919.3 1642.3 2996.0 1645.2 3042.6C1649.1 3105.1 1653.1 3184.4 1657.0 3219.7C1660.7 3252.6 1664.3 3290.5 1668.0 3290.5C1672.2 3290.5 1676.5 3250.1 1680.7 3219.7C1684.6 3191.4 1688.6 3151.7 1692.5 3101.6C1696.4 3051.5 1700.4 2969.0 1704.3 2895.1C1707.2 2840.0 1710.2 2795.8 1713.1 2718.0C1714.2 2687.9 1715.4 2640.8 1716.5 2600.0C1717.8 2552.0 1719.2 2499.8 1720.5 2450.0C1721.7 2406.5 1722.8 2358.0 1724.0 2320.0C1726.0 2254.9 1728.0 2172.2 1730.0 2150.0C1733.7 2109.4 1737.3 2080.0 1741.0 2080.0C1745.0 2080.0 1749.0 2108.2 1753.0 2150.0C1755.0 2170.9 1757.0 2249.8 1759.0 2320.0C1760.0 2355.1 1761.0 2394.7 1762.0 2450.0C1762.9 2501.6 1763.9 2612.4 1764.8 2662.0C1766.3 2740.0 1767.7 2781.4 1769.2 2836.0C1771.2 2909.3 1773.1 2991.7 1775.1 3042.6C1778.1 3119.3 1781.0 3180.1 1784.0 3219.7C1786.9 3258.9 1789.9 3292.5 1792.8 3308.2C1795.2 3321.0 1797.6 3330.3 1800.0 3335.0C1802.5 3339.9 1805.0 3345.0 1807.5 3345.0C1834.0 3345.5 1860.5 3345.3 1887.0 3345.5" stroke="#141414" stroke-width="2.6"/>
<path d="M188.0 3345.5C282.3 3345.3 376.7 3345.5 471.0 3345.0C477.3 3345.0 483.7 3332.6 490.0 3328.0C495.8 3323.8 501.5 3317.2 507.3 3317.2C513.5 3317.2 519.8 3322.0 526.0 3322.0C530.7 3322.0 535.3 3301.9 540.0 3290.0C545.0 3277.1 550.1 3246.0 555.1 3246.0C559.1 3246.0 563.0 3267.2 567.0 3275.0C571.3 3283.5 575.7 3296.1 580.0 3296.1C586.0 3296.1 592.0 3261.1 598.0 3240.0C604.2 3218.2 610.4 3165.1 616.6 3165.1C622.2 3165.1 627.8 3212.1 633.4 3241.0C637.9 3264.4 642.5 3311.9 647.0 3322.0C651.7 3332.3 656.3 3341.0 661.0 3341.0C665.9 3341.0 670.7 3336.3 675.6 3334.0C683.1 3330.5 690.7 3324.6 698.2 3323.9C703.5 3323.4 708.7 3323.6 714.0 3323.0C719.3 3322.4 724.7 3307.7 730.0 3300.0C736.4 3290.7 742.9 3272.2 749.3 3272.2C754.9 3272.2 760.6 3286.7 766.2 3286.7C774.3 3286.7 782.3 3233.3 790.4 3233.3C796.3 3233.3 802.1 3283.9 808.0 3298.9C814.5 3315.6 821.1 3336.8 827.6 3336.8C833.4 3336.8 839.2 3318.0 845.0 3310.0C852.1 3300.2 859.3 3291.0 866.4 3283.5C876.7 3272.7 886.9 3256.0 897.2 3256.0C905.3 3256.0 913.3 3294.5 921.4 3302.9C930.6 3312.5 939.7 3322.3 948.9 3322.3C953.6 3322.3 958.3 3302.8 963.0 3290.0C968.6 3274.9 974.1 3243.6 979.7 3233.3C983.7 3225.9 987.6 3222.2 991.6 3217.6C998.3 3209.9 1005.0 3197.5 1011.7 3197.5C1018.4 3197.5 1025.1 3234.3 1031.8 3252.0C1038.5 3269.7 1045.2 3296.7 1051.9 3303.8C1059.1 3311.5 1066.3 3318.2 1073.5 3318.2C1082.3 3318.2 1091.1 3288.0 1099.9 3288.0C1106.6 3288.0 1113.3 3317.0 1120.0 3324.0C1128.2 3332.7 1136.5 3342.0 1144.7 3342.0C1155.9 3342.0 1167.2 3334.1 1178.4 3323.9C1185.1 3317.8 1191.8 3305.4 1198.5 3280.8C1203.3 3263.3 1208.0 3186.2 1212.8 3137.2C1216.6 3097.8 1220.5 3016.5 1224.3 3016.5C1228.2 3016.5 1232.1 3069.7 1236.0 3108.0C1239.7 3144.0 1243.3 3219.7 1247.0 3252.0C1250.7 3284.3 1254.3 3315.1 1258.0 3325.0C1262.0 3335.8 1266.0 3345.0 1270.0 3345.0C1360.0 3345.0 1450.0 3345.0 1540.0 3345.0C1545.6 3345.0 1551.1 3303.5 1556.7 3278.7C1560.6 3261.2 1564.6 3233.3 1568.5 3219.7C1573.4 3202.6 1578.4 3181.3 1583.3 3181.3C1590.7 3181.3 1598.0 3216.7 1605.4 3216.7C1612.5 3216.7 1619.6 3176.9 1626.7 3176.9C1632.9 3176.9 1639.0 3226.5 1645.2 3249.2C1653.6 3280.0 1661.9 3336.2 1670.3 3336.2C1677.7 3336.2 1685.1 3323.0 1692.5 3308.2C1700.3 3292.5 1708.2 3241.7 1716.0 3190.2C1720.9 3157.7 1725.9 3090.9 1730.8 3057.4C1734.2 3034.1 1737.7 2999.8 1741.1 2999.8C1745.5 2999.8 1750.0 3038.2 1754.4 3072.1C1758.3 3102.1 1762.3 3184.1 1766.2 3219.7C1771.1 3264.4 1776.1 3311.0 1781.0 3323.0C1786.0 3335.1 1791.0 3344.9 1796.0 3345.0C1826.3 3345.4 1856.7 3345.3 1887.0 3345.5" stroke="#23238a" stroke-width="2.6"/>
<path d="M188.0 3345.5C282.3 3345.3 376.7 3345.5 471.0 3345.0C477.3 3345.0 483.7 3335.2 490.0 3332.0C495.8 3329.1 501.5 3325.0 507.3 3325.0C513.5 3325.0 519.8 3328.0 526.0 3328.0C530.7 3328.0 535.3 3313.2 540.0 3305.0C545.0 3296.2 550.1 3276.7 555.1 3276.7C559.1 3276.7 563.0 3290.3 567.0 3295.0C571.3 3300.1 575.7 3307.5 580.0 3307.5C586.0 3307.5 592.0 3271.6 598.0 3250.0C604.2 3227.7 610.4 3173.2 616.6 3173.2C622.1 3173.2 627.5 3222.6 633.0 3250.0C637.7 3273.4 642.3 3315.8 647.0 3325.0C651.7 3334.2 656.3 3342.0 661.0 3342.0C673.4 3342.0 685.8 3332.6 698.2 3328.0C705.5 3325.3 712.7 3324.1 720.0 3320.0C729.8 3314.4 739.5 3277.0 749.3 3277.0C754.9 3277.0 760.6 3292.0 766.2 3292.0C774.3 3292.0 782.3 3247.9 790.4 3247.9C796.3 3247.9 802.1 3291.9 808.0 3305.0C814.5 3319.6 821.1 3338.0 827.6 3338.0C851.7 3338.0 875.9 3338.0 900.0 3338.0C920.0 3338.0 940.0 3336.2 960.0 3332.0C968.3 3330.2 976.7 3307.7 985.0 3300.0C992.5 3293.1 999.9 3283.7 1007.4 3283.7C1015.5 3283.7 1023.7 3318.9 1031.8 3325.0C1038.5 3330.1 1045.2 3334.4 1051.9 3335.0C1067.9 3336.4 1084.0 3335.9 1100.0 3337.0C1114.9 3338.0 1129.8 3344.0 1144.7 3344.0C1159.8 3344.0 1174.9 3339.6 1190.0 3330.0C1196.7 3325.8 1203.3 3289.0 1210.0 3260.0C1214.8 3239.2 1219.5 3180.2 1224.3 3180.2C1229.5 3180.2 1234.8 3246.1 1240.0 3270.0C1246.0 3297.4 1252.0 3332.2 1258.0 3338.0C1262.0 3341.9 1266.0 3345.0 1270.0 3345.0C1360.0 3345.0 1450.0 3345.0 1540.0 3345.0C1560.0 3345.0 1580.0 3343.7 1600.0 3343.0C1609.0 3342.7 1618.0 3342.0 1627.0 3342.0C1641.3 3342.0 1655.7 3344.0 1670.0 3344.0C1686.7 3344.0 1703.3 3336.7 1720.0 3330.0C1728.5 3326.6 1737.1 3314.1 1745.6 3314.1C1753.7 3314.1 1761.9 3329.9 1770.0 3335.0C1776.7 3339.2 1783.3 3344.9 1790.0 3345.0C1822.3 3345.4 1854.7 3345.3 1887.0 3345.5" stroke="#38c4bc" stroke-width="2.4"/>
<path d="M188.0 3345.5C282.3 3345.3 376.7 3345.4 471.0 3345.0C490.7 3344.9 510.3 3343.3 530.0 3340.0C538.4 3338.6 546.7 3322.0 555.1 3322.0C563.4 3322.0 571.7 3335.0 580.0 3335.0C593.3 3335.0 606.7 3333.0 620.0 3333.0C629.0 3333.0 638.0 3339.1 647.0 3340.0C664.7 3341.8 682.3 3343.0 700.0 3343.0C720.0 3343.0 740.0 3343.0 760.0 3343.0C773.3 3343.0 786.7 3340.6 800.0 3338.0C813.3 3335.4 826.7 3327.7 840.0 3320.0C848.8 3314.9 857.6 3306.6 866.4 3300.0C876.7 3292.3 886.9 3277.0 897.2 3277.0C905.3 3277.0 913.3 3304.0 921.4 3310.0C930.6 3316.9 939.7 3324.0 948.9 3324.0C954.6 3324.0 960.3 3306.9 966.0 3300.0C971.6 3293.2 977.3 3281.9 982.9 3281.9C988.6 3281.9 994.3 3287.0 1000.0 3287.0C1006.3 3287.0 1012.6 3283.7 1018.9 3283.7C1029.9 3283.7 1040.9 3308.2 1051.9 3318.0C1059.1 3324.4 1066.3 3335.0 1073.5 3335.0C1082.3 3335.0 1091.1 3309.5 1099.9 3309.5C1106.6 3309.5 1113.3 3328.9 1120.0 3333.0C1128.2 3338.0 1136.5 3343.0 1144.7 3343.0C1155.9 3343.0 1167.2 3337.5 1178.4 3330.0C1185.1 3325.5 1191.8 3311.6 1198.5 3295.0C1203.3 3283.2 1208.0 3256.8 1212.8 3237.7C1216.6 3222.4 1220.5 3191.7 1224.3 3191.7C1229.5 3191.7 1234.8 3243.3 1240.0 3266.0C1246.0 3292.1 1252.0 3332.2 1258.0 3338.0C1262.0 3341.9 1266.0 3345.0 1270.0 3345.0C1360.0 3345.0 1450.0 3345.0 1540.0 3345.0C1545.6 3345.0 1551.1 3308.5 1556.7 3285.0C1560.6 3268.4 1564.6 3239.0 1568.5 3226.0C1573.4 3209.7 1578.4 3190.2 1583.3 3190.2C1590.7 3190.2 1598.0 3225.5 1605.4 3225.5C1612.5 3225.5 1619.6 3197.6 1626.7 3197.6C1632.9 3197.6 1639.0 3244.0 1645.2 3264.0C1653.6 3291.2 1661.9 3337.7 1670.3 3337.7C1678.5 3337.7 1686.8 3318.2 1695.0 3300.0C1702.0 3284.5 1709.0 3253.8 1716.0 3219.7C1720.7 3197.0 1725.3 3152.6 1730.0 3130.0C1733.2 3114.3 1736.5 3091.3 1739.7 3091.3C1744.6 3091.3 1749.5 3131.4 1754.4 3160.6C1759.3 3189.6 1764.1 3256.0 1769.0 3278.7C1776.0 3311.3 1783.0 3344.9 1790.0 3345.0C1822.3 3345.4 1854.7 3345.3 1887.0 3345.5" stroke="#6a3a8c" stroke-width="2.4"/>
<path d="M188.0 3345.5C292.0 3345.3 396.0 3345.4 500.0 3345.0C518.4 3344.9 536.7 3340.0 555.1 3340.0C570.1 3340.0 585.0 3344.0 600.0 3344.0C683.3 3344.0 766.7 3344.0 850.0 3344.0C865.7 3344.0 881.5 3341.0 897.2 3341.0C914.8 3341.0 932.4 3344.0 950.0 3344.0C961.0 3344.0 971.9 3338.0 982.9 3338.0C995.3 3338.0 1007.6 3342.0 1020.0 3342.0C1080.0 3342.0 1140.0 3342.0 1200.0 3342.0C1208.1 3342.0 1216.2 3335.4 1224.3 3335.4C1232.9 3335.4 1241.4 3345.0 1250.0 3345.0C1353.3 3345.0 1456.7 3345.0 1560.0 3345.0C1573.3 3345.0 1586.7 3342.5 1600.0 3340.0C1609.2 3338.3 1618.3 3331.0 1627.5 3331.0C1641.0 3331.0 1654.5 3343.0 1668.0 3343.0C1678.7 3343.0 1689.3 3337.1 1700.0 3330.0C1706.7 3325.5 1713.3 3304.6 1720.0 3300.0C1727.0 3295.1 1734.1 3290.5 1741.1 3290.5C1748.1 3290.5 1755.0 3297.9 1762.0 3305.0C1768.0 3311.1 1774.0 3333.6 1780.0 3338.0C1785.0 3341.7 1790.0 3344.9 1795.0 3345.0C1825.7 3345.4 1856.3 3345.3 1887.0 3345.5" stroke="#5a2448" stroke-width="2.4"/>
<path d="M188.0 3345.5C229.0 3345.1 269.9 3345.4 310.9 3344.4C313.0 3344.3 315.0 3342.7 317.1 3341.1C319.1 3339.5 321.2 3335.9 323.2 3331.8C325.3 3327.6 327.3 3320.4 329.4 3312.7C331.4 3305.1 333.5 3293.5 335.5 3284.2C337.6 3274.7 339.6 3261.9 341.7 3256.3C343.7 3250.8 345.8 3244.4 347.8 3244.4C349.8 3244.4 351.9 3250.8 353.9 3256.3C356.0 3261.9 358.0 3274.7 360.1 3284.2C362.1 3293.5 364.2 3305.1 366.2 3312.7C368.3 3320.4 370.3 3327.6 372.4 3331.8C374.5 3336.0 376.5 3339.5 378.6 3341.1C380.6 3342.7 382.7 3344.4 384.7 3344.4C413.7 3345.0 442.7 3345.0 471.7 3345.0C477.8 3345.0 483.9 3316.3 490.0 3300.0C495.8 3284.6 501.5 3249.2 507.3 3249.2C513.8 3249.2 520.2 3292.9 526.7 3292.9C536.2 3292.9 545.6 3173.2 555.1 3173.2C561.8 3173.2 568.5 3231.4 575.2 3231.4C580.6 3231.4 586.0 3226.6 591.4 3226.6C597.9 3226.6 604.3 3228.9 610.8 3233.0C615.1 3235.7 619.4 3262.2 623.7 3273.5C629.1 3287.8 634.6 3299.9 640.0 3310.0C647.0 3323.0 654.0 3343.0 661.0 3343.0C667.3 3343.0 673.7 3301.9 680.0 3290.0C686.1 3278.6 692.1 3264.9 698.2 3264.0C702.5 3263.4 706.7 3263.6 711.0 3263.0C719.7 3261.8 728.3 3199.4 737.0 3199.4C746.7 3199.4 756.5 3265.7 766.2 3265.7C774.3 3265.7 782.3 3188.0 790.4 3188.0C796.3 3188.0 802.1 3248.8 808.0 3270.0C813.1 3288.5 818.3 3315.8 823.4 3315.8C829.1 3315.8 834.9 3239.4 840.6 3222.0C847.1 3202.3 853.5 3181.6 860.0 3181.6C864.3 3181.6 868.7 3186.0 873.0 3186.0C881.1 3186.0 889.1 3128.2 897.2 3128.2C903.1 3128.2 909.1 3190.1 915.0 3205.0C919.3 3215.8 923.6 3221.0 927.9 3228.5C935.4 3241.6 943.0 3265.7 950.5 3265.7C954.7 3265.7 958.8 3171.3 963.0 3140.0C969.2 3093.7 975.3 3032.3 981.5 3032.3C988.0 3032.3 994.6 3102.7 1001.1 3102.7C1009.9 3102.7 1018.7 2987.8 1027.5 2987.8C1035.6 2987.8 1043.8 3024.7 1051.9 3051.0C1059.1 3074.3 1066.3 3142.9 1073.5 3142.9C1082.6 3142.9 1091.7 2921.7 1100.8 2921.7C1104.5 2921.7 1108.3 3005.4 1112.0 3050.0C1116.0 3097.8 1120.0 3165.1 1124.0 3200.0C1130.9 3260.1 1137.8 3332.5 1144.7 3332.5C1152.1 3332.5 1159.5 3255.7 1166.9 3237.7C1171.2 3227.3 1175.5 3214.7 1179.8 3214.7C1185.1 3214.7 1190.3 3229.1 1195.6 3229.1C1200.4 3229.1 1205.2 3165.5 1210.0 3137.2C1215.3 3106.2 1220.5 3051.0 1225.8 3051.0C1230.1 3051.0 1234.4 3126.5 1238.7 3165.0C1243.5 3207.7 1248.2 3273.5 1253.0 3295.0C1258.7 3320.6 1264.3 3345.0 1270.0 3345.0C1360.0 3345.0 1450.0 3345.0 1540.0 3345.0C1546.7 3345.0 1553.3 3330.5 1560.0 3325.0C1567.3 3319.0 1574.5 3309.7 1581.8 3309.7C1589.2 3309.7 1596.6 3316.5 1604.0 3316.5C1612.3 3316.5 1620.7 3294.9 1629.0 3294.9C1642.3 3294.9 1655.5 3337.5 1668.8 3337.5C1679.2 3337.5 1689.6 3318.4 1700.0 3300.0C1706.7 3288.2 1713.3 3254.7 1720.0 3240.0C1727.0 3224.5 1734.1 3203.4 1741.1 3203.4C1747.4 3203.4 1753.7 3248.7 1760.0 3270.0C1766.7 3292.6 1773.3 3325.4 1780.0 3335.0C1783.3 3339.8 1786.7 3345.0 1790.0 3345.0C1822.3 3345.5 1854.7 3345.3 1887.0 3345.5" stroke="#c0302c" stroke-width="2.6"/>
<path d="M188.0 3345.5C229.0 3345.4 269.9 3345.5 310.9 3345.3C313.0 3345.3 315.0 3345.1 317.1 3344.9C319.1 3344.7 321.2 3344.2 323.2 3343.6C325.3 3343.0 327.3 3342.0 329.4 3341.0C331.4 3340.0 333.5 3338.4 335.5 3337.1C337.6 3335.8 339.6 3334.1 341.7 3333.3C343.7 3332.6 345.8 3331.7 347.8 3331.7C349.8 3331.7 351.9 3332.6 353.9 3333.3C356.0 3334.1 358.0 3335.8 360.1 3337.1C362.1 3338.4 364.2 3340.0 366.2 3341.0C368.3 3342.0 370.3 3343.0 372.4 3343.6C374.5 3344.2 376.5 3344.7 378.6 3344.9C380.6 3345.1 382.7 3345.3 384.7 3345.3C413.5 3345.3 442.2 3345.2 471.0 3345.0C483.1 3344.9 495.2 3335.6 507.3 3335.6C523.2 3335.6 539.2 3338.0 555.1 3338.0C567.2 3338.0 579.3 3335.6 591.4 3335.6C607.6 3335.6 623.8 3345.0 640.0 3345.0C660.0 3345.0 680.0 3339.4 700.0 3335.0C712.3 3332.3 724.7 3323.9 737.0 3323.9C746.7 3323.9 756.5 3340.0 766.2 3340.0C774.3 3340.0 782.3 3328.0 790.4 3328.0C801.4 3328.0 812.4 3343.0 823.4 3343.0C882.3 3343.0 941.1 3343.0 1000.0 3343.0C1033.3 3343.0 1066.7 3343.7 1100.0 3344.0C1156.7 3344.4 1213.3 3345.0 1270.0 3345.0C1360.0 3345.0 1450.0 3345.0 1540.0 3345.0C1560.0 3345.0 1580.0 3340.3 1600.0 3336.0C1609.0 3334.0 1618.0 3327.0 1627.0 3327.0C1640.7 3327.0 1654.3 3344.0 1668.0 3344.0C1682.0 3344.0 1696.0 3341.9 1710.0 3340.0C1721.9 3338.4 1733.7 3331.8 1745.6 3331.8C1755.4 3331.8 1765.2 3337.0 1775.0 3340.0C1780.0 3341.5 1785.0 3344.9 1790.0 3345.0C1822.3 3345.4 1854.7 3345.3 1887.0 3345.5" stroke="#e2ab4a" stroke-width="2.4"/>
<path d="M188.0 3345.5C229.0 3345.2 269.9 3345.4 310.9 3344.5C313.0 3344.5 315.0 3343.0 317.1 3341.6C319.1 3340.2 321.2 3337.1 323.2 3333.5C325.3 3329.8 327.3 3323.5 329.4 3316.8C331.4 3310.2 333.5 3300.0 335.5 3291.8C337.6 3283.5 339.6 3272.3 341.7 3267.4C343.7 3262.6 345.8 3257.0 347.8 3257.0C349.8 3257.0 351.9 3262.6 353.9 3267.4C356.0 3272.3 358.0 3283.5 360.1 3291.8C362.1 3300.0 364.2 3310.2 366.2 3316.8C368.3 3323.5 370.3 3329.9 372.4 3333.5C374.5 3337.1 376.5 3340.2 378.6 3341.6C380.6 3343.0 382.7 3344.5 384.7 3344.5C413.7 3345.0 442.7 3345.0 471.7 3345.0C477.8 3345.0 483.9 3319.9 490.0 3305.0C495.8 3290.9 501.5 3257.0 507.3 3257.0C513.8 3257.0 520.2 3296.0 526.7 3296.0C536.2 3296.0 545.6 3179.0 555.1 3179.0C562.9 3179.0 570.6 3241.1 578.4 3241.1C582.7 3241.1 587.1 3236.0 591.4 3236.0C597.9 3236.0 604.3 3236.0 610.8 3236.0C615.1 3236.0 619.4 3264.8 623.7 3276.0C629.1 3290.1 634.6 3302.3 640.0 3312.0C647.0 3324.5 654.0 3343.0 661.0 3343.0C667.3 3343.0 673.7 3305.0 680.0 3294.0C686.1 3283.4 692.1 3271.6 698.2 3270.0C702.5 3268.9 706.7 3269.1 711.0 3268.0C719.7 3265.7 728.3 3222.0 737.0 3222.0C746.7 3222.0 756.5 3270.0 766.2 3270.0C774.3 3270.0 782.3 3206.0 790.4 3206.0C796.3 3206.0 802.1 3255.9 808.0 3275.0C813.1 3291.7 818.3 3318.0 823.4 3318.0C829.1 3318.0 834.9 3243.5 840.6 3226.0C847.1 3206.2 853.5 3185.0 860.0 3185.0C864.3 3185.0 868.7 3190.0 873.0 3190.0C881.1 3190.0 889.1 3131.0 897.2 3131.0C903.1 3131.0 909.1 3193.3 915.0 3208.0C919.3 3218.6 923.6 3223.6 927.9 3231.0C935.4 3243.9 943.0 3268.0 950.5 3268.0C954.7 3268.0 958.8 3174.1 963.0 3143.0C969.2 3097.0 975.3 3036.0 981.5 3036.0C988.0 3036.0 994.6 3106.0 1001.1 3106.0C1009.9 3106.0 1018.7 2990.0 1027.5 2990.0C1035.6 2990.0 1043.8 3027.5 1051.9 3054.0C1059.1 3077.5 1066.3 3146.0 1073.5 3146.0C1082.6 3146.0 1091.7 2924.0 1100.8 2924.0C1104.5 2924.0 1108.3 3008.3 1112.0 3053.0C1116.0 3100.9 1120.0 3168.4 1124.0 3203.0C1130.9 3262.7 1137.8 3334.0 1144.7 3334.0C1152.1 3334.0 1159.5 3257.3 1166.9 3240.0C1171.2 3229.9 1175.5 3218.0 1179.8 3218.0C1185.1 3218.0 1190.3 3232.0 1195.6 3232.0C1200.4 3232.0 1205.2 3168.3 1210.0 3140.0C1215.3 3109.0 1220.5 3054.0 1225.8 3054.0C1230.1 3054.0 1234.4 3129.6 1238.7 3168.0C1243.5 3210.5 1248.2 3276.2 1253.0 3297.0C1258.7 3321.7 1264.3 3345.0 1270.0 3345.0C1360.0 3345.0 1450.0 3345.0 1540.0 3345.0C1546.7 3345.0 1553.3 3332.7 1560.0 3330.0C1567.3 3327.1 1574.5 3324.0 1581.8 3324.0C1589.2 3324.0 1596.6 3328.0 1604.0 3328.0C1612.3 3328.0 1620.7 3314.0 1629.0 3314.0C1642.3 3314.0 1655.5 3339.0 1668.8 3339.0C1679.2 3339.0 1689.6 3321.6 1700.0 3305.0C1706.7 3294.4 1713.3 3265.3 1720.0 3252.0C1727.0 3237.9 1734.1 3218.2 1741.1 3218.2C1747.4 3218.2 1753.7 3258.8 1760.0 3278.0C1766.7 3298.4 1773.3 3329.1 1780.0 3337.0C1783.3 3340.9 1786.7 3345.0 1790.0 3345.0C1822.3 3345.5 1854.7 3345.3 1887.0 3345.5" stroke="#e02cc4" stroke-width="2.6"/>
</g>
<rect x="1632.6" y="2327.6" width="207.8" height="334.7" fill="#fff" stroke="#333" stroke-width="2.2" stroke-dasharray="2.2 6.2"/>
<line x1="1647.4" y1="2355.3" x2="1678.5" y2="2355.3" stroke="#5c5ca8" stroke-width="3"/>
<text transform="translate(1706.0 2368.6) scale(1.0330 1.0000)" font-size="37.8">Sn total</text>
<line x1="1647.4" y1="2398.9" x2="1678.5" y2="2398.9" stroke="#6ccfc4" stroke-width="3"/>
<text transform="translate(1706.0 2410.2) scale(1.0330 1.0000)" font-size="37.8">Sn (s)</text>
<line x1="1647.4" y1="2447.0" x2="1678.5" y2="2447.0" stroke="#7a5c98" stroke-width="3"/>
<text transform="translate(1706.0 2455.2) scale(1.0330 1.0000)" font-size="37.8">Sn (p)</text>
<line x1="1647.4" y1="2495.3" x2="1678.5" y2="2495.3" stroke="#6e4a62" stroke-width="3"/>
<text transform="translate(1706.0 2505.1) scale(1.0330 1.0000)" font-size="37.8">Sn (d)</text>
<line x1="1647.4" y1="2539.6" x2="1678.5" y2="2539.6" stroke="#a05050" stroke-width="3"/>
<text transform="translate(1706.0 2552.2) scale(1.0330 1.0000)" font-size="37.8">O total</text>
<line x1="1647.4" y1="2583.2" x2="1678.5" y2="2583.2" stroke="#e0c070" stroke-width="3"/>
<text transform="translate(1706.0 2597.9) scale(1.0330 1.0000)" font-size="37.8">O (s)</text>
<line x1="1647.4" y1="2631.0" x2="1678.5" y2="2631.0" stroke="#e070d0" stroke-width="3"/>
<text transform="translate(1706.0 2645.7) scale(1.0330 1.0000)" font-size="37.8">O (p)</text>
<path d="M187.8 3345.5H216.8M187.8 3173.5H216.8M187.8 3001.5H216.8M187.8 2829.5H216.8M187.8 2657.5H216.8M187.8 2485.5H216.8M187.8 2313.5H216.8M187.8 3415.5V3385.5M282.2 3415.5V3400.5M376.6 3415.5V3385.5M471.0 3415.5V3400.5M565.4 3415.5V3385.5M659.9 3415.5V3400.5M754.3 3415.5V3385.5M848.7 3415.5V3400.5M943.1 3415.5V3385.5M1037.5 3415.5V3400.5M1131.9 3415.5V3385.5M1226.3 3415.5V3400.5M1320.7 3415.5V3385.5M1415.1 3415.5V3400.5M1509.6 3415.5V3385.5M1604.0 3415.5V3400.5M1698.4 3415.5V3385.5M1792.8 3415.5V3400.5M1887.2 3415.5V3385.5" stroke="#222" stroke-width="2.4" fill="none"/>
<rect x="187.8" y="2315.3" width="1699.4" height="1100.2" fill="none" stroke="#111" stroke-width="4.6"/>
<text transform="translate(176.0 3363.5) scale(0.9600 1.0000)" font-size="52.0" text-anchor="end">0</text>
<text transform="translate(176.0 3191.5) scale(0.9600 1.0000)" font-size="52.0" text-anchor="end">5</text>
<text transform="translate(176.0 3019.5) scale(0.9600 1.0000)" font-size="52.0" text-anchor="end">10</text>
<text transform="translate(176.0 2847.5) scale(0.9600 1.0000)" font-size="52.0" text-anchor="end">15</text>
<text transform="translate(176.0 2675.5) scale(0.9600 1.0000)" font-size="52.0" text-anchor="end">20</text>
<text transform="translate(176.0 2503.5) scale(0.9600 1.0000)" font-size="52.0" text-anchor="end">25</text>
<text transform="translate(227.5 2410.7) scale(0.9870 1.0000)" font-size="70.0">c) Model II- Cluster</text>
<text transform="translate(101.0 2865.6) rotate(-90) scale(0.9520 1.0000)" font-size="59.0" text-anchor="middle">Density of States</text>
<text transform="translate(189.1 3464.3) scale(0.9600 1.0000)" font-size="52.0" text-anchor="middle">-12</text>
<text transform="translate(377.9 3464.3) scale(0.9600 1.0000)" font-size="52.0" text-anchor="middle">-10</text>
<text transform="translate(566.7 3464.3) scale(0.9600 1.0000)" font-size="52.0" text-anchor="middle">-8</text>
<text transform="translate(755.6 3464.3) scale(0.9600 1.0000)" font-size="52.0" text-anchor="middle">-6</text>
<text transform="translate(944.4 3464.3) scale(0.9600 1.0000)" font-size="52.0" text-anchor="middle">-4</text>
<text transform="translate(1133.2 3464.3) scale(0.9600 1.0000)" font-size="52.0" text-anchor="middle">-2</text>
<text transform="translate(1322.0 3464.3) scale(0.9600 1.0000)" font-size="52.0" text-anchor="middle">0</text>
<text transform="translate(1510.9 3464.3) scale(0.9600 1.0000)" font-size="52.0" text-anchor="middle">2</text>
<text transform="translate(1699.7 3464.3) scale(0.9600 1.0000)" font-size="52.0" text-anchor="middle">4</text>
<text transform="translate(1888.5 3464.3) scale(0.9600 1.0000)" font-size="52.0" text-anchor="middle">6</text>
<text transform="translate(1038.8 3500.5) scale(1.0630 1.0000)" font-size="54.0" text-anchor="middle">Energy (eV)</text>
</svg></body></html>
